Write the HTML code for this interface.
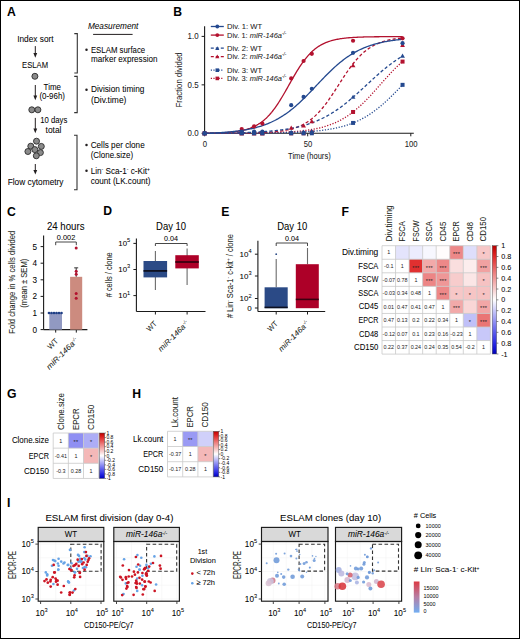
<!DOCTYPE html>
<html><head><meta charset="utf-8"><style>
html,body{margin:0;padding:0;background:#fff;overflow:hidden;width:520px;height:639px;}
svg{display:block;font-family:"Liberation Sans", sans-serif;}
</style></head><body>
<svg width="520" height="639" viewBox="0 0 520 639">
<rect x="0" y="0" width="520" height="639" fill="#fff"/>
<text x="7.00" y="15.90" font-size="12.2" text-anchor="start" font-weight="bold" fill="#000" >A</text>
<text x="17.20" y="42.40" font-size="8.6" text-anchor="start" textLength="36.40" lengthAdjust="spacingAndGlyphs" stroke="#231f20" stroke-width="0.05" >Index sort</text>
<line x1="35.3" y1="46.1" x2="35.3" y2="54.2" stroke="#231f20" stroke-width="1"/>
<path d="M33.4,53.1 L37.199999999999996,53.1 L35.3,57.7 Z" fill="#231f20"/>
<text x="22.10" y="67.70" font-size="8.6" text-anchor="start" textLength="26.00" lengthAdjust="spacingAndGlyphs" stroke="#231f20" stroke-width="0.05" >ESLAM</text>
<circle cx="34.9" cy="76.3" r="3.0" fill="#8a8a8a" stroke="#2a2a2a" stroke-width="0.9"/>
<line x1="35.3" y1="85" x2="35.3" y2="96.7" stroke="#231f20" stroke-width="1"/>
<path d="M33.4,95.60000000000001 L37.199999999999996,95.60000000000001 L35.3,100.2 Z" fill="#231f20"/>
<text x="43.60" y="89.70" font-size="8.6" text-anchor="start" textLength="17.40" lengthAdjust="spacingAndGlyphs" stroke="#231f20" stroke-width="0.05" >Time</text>
<text x="39.40" y="99.30" font-size="8.6" text-anchor="start" textLength="25.60" lengthAdjust="spacingAndGlyphs" stroke="#231f20" stroke-width="0.05" >(0-96h)</text>
<circle cx="31.8" cy="109.8" r="3.0" fill="#8a8a8a" stroke="#2a2a2a" stroke-width="0.9"/>
<circle cx="37.9" cy="109.8" r="3.0" fill="#8a8a8a" stroke="#2a2a2a" stroke-width="0.9"/>
<line x1="35.3" y1="117.9" x2="35.3" y2="129.7" stroke="#231f20" stroke-width="1"/>
<path d="M33.4,128.6 L37.199999999999996,128.6 L35.3,133.2 Z" fill="#231f20"/>
<text x="40.20" y="123.20" font-size="8.6" text-anchor="start" textLength="27.10" lengthAdjust="spacingAndGlyphs" stroke="#231f20" stroke-width="0.05" >10 days</text>
<text x="45.60" y="132.80" font-size="8.6" text-anchor="start" textLength="15.90" lengthAdjust="spacingAndGlyphs" stroke="#231f20" stroke-width="0.05" >total</text>
<circle cx="36.5" cy="141.2" r="3.0" fill="#8a8a8a" stroke="#2a2a2a" stroke-width="0.9"/>
<circle cx="30.8" cy="146.2" r="3.0" fill="#8a8a8a" stroke="#2a2a2a" stroke-width="0.9"/>
<circle cx="41.3" cy="146.4" r="3.0" fill="#8a8a8a" stroke="#2a2a2a" stroke-width="0.9"/>
<circle cx="34.8" cy="149.6" r="3.0" fill="#8a8a8a" stroke="#2a2a2a" stroke-width="0.9"/>
<circle cx="27.9" cy="151.5" r="3.0" fill="#8a8a8a" stroke="#2a2a2a" stroke-width="0.9"/>
<circle cx="40.4" cy="152.6" r="3.0" fill="#8a8a8a" stroke="#2a2a2a" stroke-width="0.9"/>
<circle cx="36.3" cy="155.8" r="3.0" fill="#8a8a8a" stroke="#2a2a2a" stroke-width="0.9"/>
<line x1="35.3" y1="164" x2="35.3" y2="171.1" stroke="#231f20" stroke-width="1"/>
<path d="M33.4,170.0 L37.199999999999996,170.0 L35.3,174.6 Z" fill="#231f20"/>
<text x="7.70" y="184.50" font-size="8.6" text-anchor="start" textLength="55.80" lengthAdjust="spacingAndGlyphs" stroke="#231f20" stroke-width="0.05" >Flow cytometry</text>
<text x="87.90" y="28.70" font-size="8.6" text-anchor="start" font-style="italic" textLength="50.50" lengthAdjust="spacingAndGlyphs" >Measurement</text>
<line x1="93.1" y1="34.4" x2="132.6" y2="34.4" stroke="#231f20" stroke-width="1"/>
<path d="M74.3,33.6 L77.3,33.6 L77.3,73.0 L74.3,73.0" fill="none" stroke="#333" stroke-width="1.1"/>
<path d="M74.2,76.4 L77.2,76.4 L77.2,112.6 L74.2,112.6" fill="none" stroke="#333" stroke-width="1.1"/>
<path d="M74.0,135.3 L77.0,135.3 L77.0,189.7 L74.0,189.7" fill="none" stroke="#333" stroke-width="1.1"/>
<circle cx="86.5" cy="49.8" r="1.25" fill="#231f20"/>
<text x="90.90" y="52.50" font-size="8.6" text-anchor="start" textLength="54.30" lengthAdjust="spacingAndGlyphs" stroke="#231f20" stroke-width="0.05" >ESLAM surface</text>
<text x="90.90" y="62.30" font-size="8.6" text-anchor="start" textLength="66.60" lengthAdjust="spacingAndGlyphs" stroke="#231f20" stroke-width="0.05" >marker expression</text>
<circle cx="86.5" cy="89.7" r="1.25" fill="#231f20"/>
<text x="90.90" y="92.40" font-size="8.6" text-anchor="start" textLength="53.50" lengthAdjust="spacingAndGlyphs" stroke="#231f20" stroke-width="0.05" >Division timing</text>
<text x="90.90" y="102.50" font-size="8.6" text-anchor="start" textLength="35.50" lengthAdjust="spacingAndGlyphs" stroke="#231f20" stroke-width="0.05" >(Div.time)</text>
<circle cx="86.5" cy="145.0" r="1.25" fill="#231f20"/>
<text x="90.70" y="147.90" font-size="8.6" text-anchor="start" textLength="54.00" lengthAdjust="spacingAndGlyphs" stroke="#231f20" stroke-width="0.05" >Cells per clone</text>
<text x="90.70" y="157.70" font-size="8.6" text-anchor="start" textLength="42.40" lengthAdjust="spacingAndGlyphs" stroke="#231f20" stroke-width="0.05" >(Clone.size)</text>
<circle cx="86.5" cy="170.8" r="1.25" fill="#231f20"/>
<text x="90.70" y="173.50" font-size="8.6" text-anchor="start" textLength="59.30" lengthAdjust="spacingAndGlyphs" stroke="#231f20" stroke-width="0.05" >Lin<tspan font-size="5.2" dy="-2.9">-</tspan><tspan dy="2.9"> Sca-1</tspan><tspan font-size="5.2" dy="-2.9">-</tspan><tspan dy="2.9"> c-Kit</tspan><tspan font-size="5.2" dy="-2.9">+</tspan></text>
<text x="90.70" y="183.50" font-size="8.6" text-anchor="start" textLength="59.80" lengthAdjust="spacingAndGlyphs" stroke="#231f20" stroke-width="0.05" >count (LK.count)</text>
<text x="173.20" y="15.90" font-size="12.2" text-anchor="start" font-weight="bold" fill="#000" >B</text>
<line x1="204.6" y1="26.2" x2="204.6" y2="133.3" stroke="#1a1a1a" stroke-width="1.1"/>
<line x1="204.6" y1="133.3" x2="413.8" y2="133.3" stroke="#1a1a1a" stroke-width="1.1"/>
<line x1="201.6" y1="133.30" x2="204.6" y2="133.30" stroke="#1a1a1a" stroke-width="1"/>
<line x1="201.6" y1="84.85" x2="204.6" y2="84.85" stroke="#1a1a1a" stroke-width="1"/>
<line x1="201.6" y1="36.40" x2="204.6" y2="36.40" stroke="#1a1a1a" stroke-width="1"/>
<line x1="204.60" y1="133.3" x2="204.60" y2="136.3" stroke="#1a1a1a" stroke-width="1"/>
<line x1="307.70" y1="133.3" x2="307.70" y2="136.3" stroke="#1a1a1a" stroke-width="1"/>
<line x1="410.80" y1="133.3" x2="410.80" y2="136.3" stroke="#1a1a1a" stroke-width="1"/>
<text x="198.60" y="136.10" font-size="8.2" text-anchor="end" fill="#222" textLength="11.00" lengthAdjust="spacingAndGlyphs" stroke="#222" stroke-width="0.05" >0.0</text>
<text x="198.60" y="87.65" font-size="8.2" text-anchor="end" fill="#222" textLength="11.00" lengthAdjust="spacingAndGlyphs" stroke="#222" stroke-width="0.05" >0.5</text>
<text x="198.60" y="39.20" font-size="8.2" text-anchor="end" fill="#222" textLength="11.00" lengthAdjust="spacingAndGlyphs" stroke="#222" stroke-width="0.05" >1.0</text>
<text x="205.00" y="146.50" font-size="8.3" text-anchor="middle" fill="#222" textLength="4.30" lengthAdjust="spacingAndGlyphs" stroke="#222" stroke-width="0.05" >0</text>
<text x="308.10" y="146.50" font-size="8.3" text-anchor="middle" fill="#222" textLength="8.50" lengthAdjust="spacingAndGlyphs" stroke="#222" stroke-width="0.05" >50</text>
<text x="411.20" y="146.50" font-size="8.3" text-anchor="middle" fill="#222" textLength="12.80" lengthAdjust="spacingAndGlyphs" stroke="#222" stroke-width="0.05" >100</text>
<text x="309.40" y="158.80" font-size="9.4" text-anchor="middle" fill="#222" textLength="42.60" lengthAdjust="spacingAndGlyphs" stroke="#222" stroke-width="0.05" >Time (hours)</text>
<text x="0" y="0" font-size="9.6" fill="#222" text-anchor="middle" textLength="55" lengthAdjust="spacingAndGlyphs" transform="translate(181.8,79.9) rotate(-90)">Fraction divided</text>
<polyline points="204.60,133.30 205.63,133.30 206.66,133.30 207.69,133.30 208.72,133.29 209.75,133.29 210.79,133.29 211.82,133.29 212.85,133.29 213.88,133.29 214.91,133.28 215.94,133.28 216.97,133.28 218.00,133.28 219.03,133.27 220.06,133.27 221.10,133.27 222.13,133.27 223.16,133.26 224.19,133.26 225.22,133.26 226.25,133.25 227.28,133.25 228.31,133.25 229.34,133.24 230.38,133.24 231.41,133.23 232.44,133.23 233.47,133.22 234.50,133.22 235.53,133.21 236.56,133.21 237.59,133.20 238.62,133.20 239.65,133.19 240.69,133.18 241.72,133.18 242.75,133.17 243.78,133.16 244.81,133.15 245.84,133.14 246.87,133.13 247.90,133.13 248.93,133.12 249.96,133.11 251.00,133.09 252.03,133.08 253.06,133.07 254.09,133.06 255.12,133.05 256.15,133.03 257.18,133.02 258.21,133.00 259.24,132.99 260.27,132.97 261.31,132.95 262.34,132.93 263.37,132.91 264.40,132.89 265.43,132.87 266.46,132.85 267.49,132.83 268.52,132.80 269.55,132.78 270.58,132.75 271.62,132.72 272.65,132.69 273.68,132.66 274.71,132.63 275.74,132.59 276.77,132.56 277.80,132.52 278.83,132.48 279.86,132.44 280.89,132.39 281.92,132.35 282.96,132.30 283.99,132.25 285.02,132.20 286.05,132.14 287.08,132.09 288.11,132.03 289.14,131.96 290.17,131.90 291.20,131.83 292.24,131.75 293.27,131.68 294.30,131.60 295.33,131.51 296.36,131.43 297.39,131.33 298.42,131.24 299.45,131.14 300.48,131.03 301.51,130.92 302.54,130.80 303.58,130.68 304.61,130.56 305.64,130.42 306.67,130.29 307.70,130.14 308.73,129.99 309.76,129.83 310.79,129.66 311.82,129.49 312.86,129.31 313.89,129.12 314.92,128.92 315.95,128.71 316.98,128.50 318.01,128.27 319.04,128.04 320.07,127.79 321.10,127.53 322.13,127.27 323.16,126.99 324.20,126.69 325.23,126.39 326.26,126.07 327.29,125.74 328.32,125.40 329.35,125.04 330.38,124.67 331.41,124.28 332.44,123.88 333.48,123.46 334.51,123.03 335.54,122.57 336.57,122.10 337.60,121.62 338.63,121.11 339.66,120.59 340.69,120.05 341.72,119.49 342.75,118.90 343.78,118.30 344.82,117.68 345.85,117.04 346.88,116.38 347.91,115.69 348.94,114.99 349.97,114.26 351.00,113.51 352.03,112.74 353.06,111.95 354.09,111.13 355.13,110.30 356.16,109.44 357.19,108.57 358.22,107.67 359.25,106.75 360.28,105.81 361.31,104.85 362.34,103.87 363.37,102.88 364.40,101.86 365.44,100.83 366.47,99.78 367.50,98.72 368.53,97.64 369.56,96.55 370.59,95.44 371.62,94.32 372.65,93.20 373.68,92.06 374.71,90.91 375.75,89.76 376.78,88.60 377.81,87.44 378.84,86.28 379.87,85.11 380.90,83.94 381.93,82.78 382.96,81.61 383.99,80.45 385.02,79.30 386.06,78.15 387.09,77.01 388.12,75.88 389.15,74.76 390.18,73.65 391.21,72.55 392.24,71.47 393.27,70.40 394.30,69.34 395.33,68.30 396.37,67.28 397.40,66.28 398.43,65.29 399.46,64.32 400.49,63.38 401.52,62.45 402.55,61.54" fill="none" stroke="#b3122f" stroke-width="1.3" stroke-dasharray="1.2,1.6"/>
<polyline points="204.60,133.30 205.63,133.30 206.66,133.30 207.69,133.30 208.72,133.29 209.75,133.29 210.79,133.29 211.82,133.29 212.85,133.29 213.88,133.29 214.91,133.28 215.94,133.28 216.97,133.28 218.00,133.28 219.03,133.27 220.06,133.27 221.10,133.27 222.13,133.26 223.16,133.26 224.19,133.26 225.22,133.25 226.25,133.25 227.28,133.24 228.31,133.24 229.34,133.23 230.38,133.23 231.41,133.22 232.44,133.22 233.47,133.21 234.50,133.20 235.53,133.19 236.56,133.19 237.59,133.18 238.62,133.17 239.65,133.16 240.69,133.14 241.72,133.13 242.75,133.12 243.78,133.11 244.81,133.09 245.84,133.08 246.87,133.06 247.90,133.04 248.93,133.02 249.96,133.00 251.00,132.98 252.03,132.96 253.06,132.94 254.09,132.91 255.12,132.88 256.15,132.85 257.18,132.82 258.21,132.79 259.24,132.75 260.27,132.71 261.31,132.67 262.34,132.62 263.37,132.58 264.40,132.53 265.43,132.47 266.46,132.41 267.49,132.35 268.52,132.29 269.55,132.22 270.58,132.14 271.62,132.06 272.65,131.98 273.68,131.89 274.71,131.79 275.74,131.68 276.77,131.57 277.80,131.46 278.83,131.33 279.86,131.20 280.89,131.05 281.92,130.90 282.96,130.74 283.99,130.57 285.02,130.38 286.05,130.19 287.08,129.98 288.11,129.76 289.14,129.52 290.17,129.27 291.20,129.00 292.24,128.72 293.27,128.42 294.30,128.10 295.33,127.76 296.36,127.40 297.39,127.02 298.42,126.62 299.45,126.19 300.48,125.74 301.51,125.26 302.54,124.75 303.58,124.22 304.61,123.65 305.64,123.06 306.67,122.43 307.70,121.77 308.73,121.07 309.76,120.34 310.79,119.57 311.82,118.77 312.86,117.92 313.89,117.04 314.92,116.12 315.95,115.15 316.98,114.15 318.01,113.10 319.04,112.02 320.07,110.89 321.10,109.72 322.13,108.51 323.16,107.26 324.20,105.97 325.23,104.64 326.26,103.28 327.29,101.88 328.32,100.44 329.35,98.98 330.38,97.49 331.41,95.97 332.44,94.43 333.48,92.87 334.51,91.29 335.54,89.70 336.57,88.09 337.60,86.48 338.63,84.87 339.66,83.25 340.69,81.64 341.72,80.04 342.75,78.44 343.78,76.87 344.82,75.30 345.85,73.76 346.88,72.24 347.91,70.75 348.94,69.29 349.97,67.86 351.00,66.46 352.03,65.09 353.06,63.77 354.09,62.48 355.13,61.23 356.16,60.02 357.19,58.85 358.22,57.72 359.25,56.63 360.28,55.59 361.31,54.58 362.34,53.62 363.37,52.69 364.40,51.81 365.44,50.97 366.47,50.16 367.50,49.39 368.53,48.66 369.56,47.97 370.59,47.31 371.62,46.68 372.65,46.08 373.68,45.52 374.71,44.98 375.75,44.48 376.78,44.00 377.81,43.54 378.84,43.12 379.87,42.71 380.90,42.33 381.93,41.97 382.96,41.63 383.99,41.31 385.02,41.01 386.06,40.73 387.09,40.46 388.12,40.21 389.15,39.98 390.18,39.75 391.21,39.55 392.24,39.35 393.27,39.17 394.30,38.99 395.33,38.83 396.37,38.68 397.40,38.54 398.43,38.40 399.46,38.28 400.49,38.16 401.52,38.05 402.55,37.95" fill="none" stroke="#b3122f" stroke-width="1.3" stroke-dasharray="3.2,2.2"/>
<polyline points="204.60,133.30 205.63,133.28 206.66,133.27 207.69,133.25 208.72,133.23 209.75,133.21 210.79,133.19 211.82,133.16 212.85,133.14 213.88,133.11 214.91,133.08 215.94,133.05 216.97,133.01 218.00,132.97 219.03,132.93 220.06,132.89 221.10,132.84 222.13,132.79 223.16,132.73 224.19,132.67 225.22,132.61 226.25,132.54 227.28,132.46 228.31,132.38 229.34,132.30 230.38,132.20 231.41,132.10 232.44,132.00 233.47,131.88 234.50,131.75 235.53,131.62 236.56,131.47 237.59,131.32 238.62,131.15 239.65,130.97 240.69,130.78 241.72,130.57 242.75,130.35 243.78,130.11 244.81,129.85 245.84,129.58 246.87,129.28 247.90,128.97 248.93,128.63 249.96,128.27 251.00,127.88 252.03,127.46 253.06,127.02 254.09,126.55 255.12,126.04 256.15,125.50 257.18,124.93 258.21,124.32 259.24,123.67 260.27,122.98 261.31,122.25 262.34,121.48 263.37,120.65 264.40,119.79 265.43,118.87 266.46,117.91 267.49,116.89 268.52,115.82 269.55,114.70 270.58,113.52 271.62,112.30 272.65,111.01 273.68,109.68 274.71,108.29 275.74,106.86 276.77,105.37 277.80,103.83 278.83,102.25 279.86,100.62 280.89,98.96 281.92,97.26 282.96,95.52 283.99,93.76 285.02,91.97 286.05,90.17 287.08,88.35 288.11,86.51 289.14,84.68 290.17,82.85 291.20,81.02 292.24,79.20 293.27,77.40 294.30,75.63 295.33,73.87 296.36,72.15 297.39,70.46 298.42,68.81 299.45,67.21 300.48,65.64 301.51,64.13 302.54,62.66 303.58,61.24 304.61,59.87 305.64,58.56 306.67,57.30 307.70,56.09 308.73,54.94 309.76,53.84 310.79,52.79 311.82,51.80 312.86,50.85 313.89,49.95 314.92,49.10 315.95,48.30 316.98,47.55 318.01,46.83 319.04,46.16 320.07,45.52 321.10,44.93 322.13,44.37 323.16,43.85 324.20,43.35 325.23,42.89 326.26,42.46 327.29,42.06 328.32,41.68 329.35,41.33 330.38,41.00 331.41,40.69 332.44,40.40 333.48,40.14 334.51,39.89 335.54,39.65 336.57,39.44 337.60,39.24 338.63,39.05 339.66,38.87 340.69,38.71 341.72,38.56 342.75,38.42 343.78,38.29 344.82,38.17 345.85,38.05 346.88,37.95 347.91,37.85 348.94,37.76 349.97,37.68 351.00,37.60 352.03,37.53 353.06,37.46 354.09,37.40 355.13,37.34 356.16,37.29 357.19,37.24 358.22,37.19 359.25,37.15 360.28,37.11 361.31,37.07 362.34,37.04 363.37,37.00 364.40,36.97 365.44,36.95 366.47,36.92 367.50,36.90 368.53,36.88 369.56,36.86 370.59,36.84 371.62,36.82 372.65,36.80 373.68,36.79 374.71,36.77 375.75,36.76 376.78,36.75 377.81,36.74 378.84,36.73 379.87,36.72 380.90,36.71 381.93,36.70 382.96,36.69 383.99,36.69 385.02,36.68 386.06,36.67 387.09,36.67 388.12,36.66 389.15,36.66 390.18,36.65 391.21,36.65 392.24,36.65 393.27,36.64 394.30,36.64 395.33,36.64 396.37,36.63 397.40,36.63 398.43,36.63 399.46,36.63 400.49,36.62 401.52,36.62 402.55,36.62" fill="none" stroke="#b3122f" stroke-width="1.3"/>
<polyline points="204.60,133.30 205.63,133.30 206.66,133.30 207.69,133.30 208.72,133.30 209.75,133.30 210.79,133.29 211.82,133.29 212.85,133.29 213.88,133.29 214.91,133.29 215.94,133.29 216.97,133.29 218.00,133.28 219.03,133.28 220.06,133.28 221.10,133.28 222.13,133.28 223.16,133.28 224.19,133.27 225.22,133.27 226.25,133.27 227.28,133.27 228.31,133.27 229.34,133.26 230.38,133.26 231.41,133.26 232.44,133.25 233.47,133.25 234.50,133.25 235.53,133.25 236.56,133.24 237.59,133.24 238.62,133.23 239.65,133.23 240.69,133.23 241.72,133.22 242.75,133.22 243.78,133.21 244.81,133.21 245.84,133.20 246.87,133.20 247.90,133.19 248.93,133.19 249.96,133.18 251.00,133.17 252.03,133.17 253.06,133.16 254.09,133.15 255.12,133.15 256.15,133.14 257.18,133.13 258.21,133.12 259.24,133.11 260.27,133.10 261.31,133.09 262.34,133.08 263.37,133.07 264.40,133.06 265.43,133.05 266.46,133.04 267.49,133.03 268.52,133.01 269.55,133.00 270.58,132.98 271.62,132.97 272.65,132.95 273.68,132.94 274.71,132.92 275.74,132.90 276.77,132.88 277.80,132.86 278.83,132.84 279.86,132.82 280.89,132.80 281.92,132.78 282.96,132.75 283.99,132.73 285.02,132.70 286.05,132.67 287.08,132.64 288.11,132.61 289.14,132.58 290.17,132.55 291.20,132.51 292.24,132.48 293.27,132.44 294.30,132.40 295.33,132.36 296.36,132.31 297.39,132.27 298.42,132.22 299.45,132.17 300.48,132.12 301.51,132.07 302.54,132.01 303.58,131.95 304.61,131.89 305.64,131.83 306.67,131.76 307.70,131.69 308.73,131.62 309.76,131.55 310.79,131.47 311.82,131.39 312.86,131.30 313.89,131.21 314.92,131.12 315.95,131.02 316.98,130.92 318.01,130.81 319.04,130.70 320.07,130.59 321.10,130.47 322.13,130.34 323.16,130.21 324.20,130.08 325.23,129.93 326.26,129.79 327.29,129.63 328.32,129.47 329.35,129.31 330.38,129.13 331.41,128.95 332.44,128.76 333.48,128.57 334.51,128.36 335.54,128.15 336.57,127.93 337.60,127.70 338.63,127.46 339.66,127.21 340.69,126.95 341.72,126.69 342.75,126.41 343.78,126.12 344.82,125.82 345.85,125.51 346.88,125.18 347.91,124.85 348.94,124.50 349.97,124.14 351.00,123.76 352.03,123.37 353.06,122.97 354.09,122.56 355.13,122.12 356.16,121.68 357.19,121.22 358.22,120.74 359.25,120.25 360.28,119.74 361.31,119.22 362.34,118.67 363.37,118.12 364.40,117.54 365.44,116.95 366.47,116.34 367.50,115.71 368.53,115.06 369.56,114.40 370.59,113.71 371.62,113.01 372.65,112.29 373.68,111.55 374.71,110.80 375.75,110.02 376.78,109.23 377.81,108.42 378.84,107.60 379.87,106.75 380.90,105.89 381.93,105.01 382.96,104.12 383.99,103.20 385.02,102.28 386.06,101.34 387.09,100.38 388.12,99.41 389.15,98.43 390.18,97.44 391.21,96.43 392.24,95.42 393.27,94.39 394.30,93.36 395.33,92.31 396.37,91.26 397.40,90.21 398.43,89.15 399.46,88.08 400.49,87.01 401.52,85.94 402.55,84.87" fill="none" stroke="#24498f" stroke-width="1.3" stroke-dasharray="1.2,1.6"/>
<polyline points="204.60,133.30 205.63,133.29 206.66,133.28 207.69,133.28 208.72,133.27 209.75,133.26 210.79,133.25 211.82,133.24 212.85,133.23 213.88,133.22 214.91,133.21 215.94,133.19 216.97,133.18 218.00,133.17 219.03,133.16 220.06,133.14 221.10,133.13 222.13,133.11 223.16,133.10 224.19,133.08 225.22,133.07 226.25,133.05 227.28,133.03 228.31,133.01 229.34,132.99 230.38,132.97 231.41,132.95 232.44,132.93 233.47,132.91 234.50,132.88 235.53,132.86 236.56,132.83 237.59,132.81 238.62,132.78 239.65,132.75 240.69,132.72 241.72,132.69 242.75,132.66 243.78,132.62 244.81,132.59 245.84,132.55 246.87,132.51 247.90,132.47 248.93,132.43 249.96,132.39 251.00,132.35 252.03,132.30 253.06,132.25 254.09,132.21 255.12,132.15 256.15,132.10 257.18,132.05 258.21,131.99 259.24,131.93 260.27,131.87 261.31,131.80 262.34,131.73 263.37,131.66 264.40,131.59 265.43,131.52 266.46,131.44 267.49,131.36 268.52,131.27 269.55,131.19 270.58,131.10 271.62,131.00 272.65,130.90 273.68,130.80 274.71,130.70 275.74,130.59 276.77,130.47 277.80,130.36 278.83,130.23 279.86,130.11 280.89,129.98 281.92,129.84 282.96,129.70 283.99,129.55 285.02,129.40 286.05,129.24 287.08,129.08 288.11,128.91 289.14,128.73 290.17,128.55 291.20,128.36 292.24,128.17 293.27,127.96 294.30,127.75 295.33,127.54 296.36,127.31 297.39,127.08 298.42,126.84 299.45,126.59 300.48,126.33 301.51,126.06 302.54,125.79 303.58,125.50 304.61,125.21 305.64,124.91 306.67,124.59 307.70,124.27 308.73,123.93 309.76,123.59 310.79,123.23 311.82,122.86 312.86,122.48 313.89,122.09 314.92,121.69 315.95,121.27 316.98,120.84 318.01,120.40 319.04,119.95 320.07,119.48 321.10,119.00 322.13,118.51 323.16,118.00 324.20,117.48 325.23,116.94 326.26,116.39 327.29,115.83 328.32,115.25 329.35,114.66 330.38,114.05 331.41,113.43 332.44,112.80 333.48,112.15 334.51,111.48 335.54,110.80 336.57,110.11 337.60,109.40 338.63,108.68 339.66,107.94 340.69,107.19 341.72,106.43 342.75,105.65 343.78,104.86 344.82,104.06 345.85,103.24 346.88,102.42 347.91,101.58 348.94,100.73 349.97,99.86 351.00,98.99 352.03,98.11 353.06,97.22 354.09,96.32 355.13,95.41 356.16,94.49 357.19,93.57 358.22,92.64 359.25,91.70 360.28,90.76 361.31,89.81 362.34,88.87 363.37,87.91 364.40,86.96 365.44,86.00 366.47,85.05 367.50,84.09 368.53,83.13 369.56,82.18 370.59,81.23 371.62,80.28 372.65,79.33 373.68,78.39 374.71,77.46 375.75,76.52 376.78,75.60 377.81,74.68 378.84,73.78 379.87,72.87 380.90,71.98 381.93,71.10 382.96,70.23 383.99,69.37 385.02,68.51 386.06,67.68 387.09,66.85 388.12,66.03 389.15,65.23 390.18,64.44 391.21,63.66 392.24,62.90 393.27,62.15 394.30,61.41 395.33,60.69 396.37,59.98 397.40,59.29 398.43,58.61 399.46,57.94 400.49,57.29 401.52,56.66 402.55,56.04" fill="none" stroke="#24498f" stroke-width="1.3" stroke-dasharray="3.2,2.2"/>
<polyline points="204.60,133.30 205.63,133.27 206.66,133.23 207.69,133.20 208.72,133.16 209.75,133.12 210.79,133.08 211.82,133.03 212.85,132.99 213.88,132.94 214.91,132.89 215.94,132.84 216.97,132.78 218.00,132.73 219.03,132.67 220.06,132.61 221.10,132.54 222.13,132.48 223.16,132.40 224.19,132.33 225.22,132.25 226.25,132.17 227.28,132.09 228.31,132.00 229.34,131.91 230.38,131.82 231.41,131.72 232.44,131.61 233.47,131.50 234.50,131.39 235.53,131.27 236.56,131.15 237.59,131.02 238.62,130.89 239.65,130.75 240.69,130.60 241.72,130.45 242.75,130.29 243.78,130.13 244.81,129.95 245.84,129.78 246.87,129.59 247.90,129.39 248.93,129.19 249.96,128.98 251.00,128.76 252.03,128.53 253.06,128.29 254.09,128.04 255.12,127.79 256.15,127.52 257.18,127.24 258.21,126.95 259.24,126.65 260.27,126.33 261.31,126.01 262.34,125.67 263.37,125.32 264.40,124.96 265.43,124.58 266.46,124.19 267.49,123.78 268.52,123.36 269.55,122.93 270.58,122.48 271.62,122.01 272.65,121.53 273.68,121.03 274.71,120.52 275.74,119.98 276.77,119.43 277.80,118.87 278.83,118.28 279.86,117.68 280.89,117.06 281.92,116.42 282.96,115.76 283.99,115.08 285.02,114.38 286.05,113.67 287.08,112.94 288.11,112.18 289.14,111.41 290.17,110.62 291.20,109.81 292.24,108.98 293.27,108.14 294.30,107.28 295.33,106.39 296.36,105.50 297.39,104.58 298.42,103.65 299.45,102.70 300.48,101.74 301.51,100.76 302.54,99.77 303.58,98.77 304.61,97.75 305.64,96.72 306.67,95.69 307.70,94.64 308.73,93.58 309.76,92.51 310.79,91.44 311.82,90.36 312.86,89.28 313.89,88.19 314.92,87.11 315.95,86.01 316.98,84.92 318.01,83.83 319.04,82.74 320.07,81.66 321.10,80.58 322.13,79.50 323.16,78.43 324.20,77.37 325.23,76.31 326.26,75.26 327.29,74.23 328.32,73.20 329.35,72.19 330.38,71.19 331.41,70.20 332.44,69.22 333.48,68.26 334.51,67.32 335.54,66.39 336.57,65.48 337.60,64.58 338.63,63.71 339.66,62.85 340.69,62.01 341.72,61.18 342.75,60.38 343.78,59.59 344.82,58.82 345.85,58.07 346.88,57.34 347.91,56.63 348.94,55.94 349.97,55.27 351.00,54.61 352.03,53.97 353.06,53.36 354.09,52.76 355.13,52.18 356.16,51.61 357.19,51.07 358.22,50.54 359.25,50.03 360.28,49.53 361.31,49.05 362.34,48.59 363.37,48.14 364.40,47.71 365.44,47.29 366.47,46.89 367.50,46.50 368.53,46.13 369.56,45.77 370.59,45.42 371.62,45.08 372.65,44.76 373.68,44.45 374.71,44.15 375.75,43.86 376.78,43.59 377.81,43.32 378.84,43.06 379.87,42.82 380.90,42.58 381.93,42.35 382.96,42.13 383.99,41.93 385.02,41.72 386.06,41.53 387.09,41.35 388.12,41.17 389.15,41.00 390.18,40.83 391.21,40.68 392.24,40.52 393.27,40.38 394.30,40.24 395.33,40.11 396.37,39.98 397.40,39.86 398.43,39.74 399.46,39.63 400.49,39.52 401.52,39.42 402.55,39.32" fill="none" stroke="#24498f" stroke-width="1.3"/>
<rect x="202.60" y="131.30" width="4" height="4" fill="#b3122f"/>
<rect x="239.72" y="131.30" width="4" height="4" fill="#b3122f"/>
<rect x="252.09" y="131.30" width="4" height="4" fill="#b3122f"/>
<rect x="260.34" y="131.30" width="4" height="4" fill="#b3122f"/>
<rect x="289.20" y="131.30" width="4" height="4" fill="#b3122f"/>
<rect x="301.58" y="131.30" width="4" height="4" fill="#b3122f"/>
<rect x="309.82" y="130.33" width="4" height="4" fill="#b3122f"/>
<rect x="351.06" y="109.98" width="4" height="4" fill="#b3122f"/>
<rect x="400.55" y="59.59" width="4" height="4" fill="#b3122f"/>
<path d="M202.20,135.20 L207.00,135.20 L204.60,131.00 Z" fill="#b3122f"/>
<path d="M239.32,135.20 L244.12,135.20 L241.72,131.00 Z" fill="#b3122f"/>
<path d="M251.69,135.20 L256.49,135.20 L254.09,131.00 Z" fill="#b3122f"/>
<path d="M259.94,135.20 L264.74,135.20 L262.34,131.00 Z" fill="#b3122f"/>
<path d="M288.80,129.68 L293.60,129.68 L291.20,125.48 Z" fill="#b3122f"/>
<path d="M301.18,127.45 L305.98,127.45 L303.58,123.25 Z" fill="#b3122f"/>
<path d="M309.42,123.18 L314.22,123.18 L311.82,118.98 Z" fill="#b3122f"/>
<path d="M350.66,67.37 L355.46,67.37 L353.06,63.17 Z" fill="#b3122f"/>
<path d="M400.15,47.02 L404.95,47.02 L402.55,42.82 Z" fill="#b3122f"/>
<circle cx="204.60" cy="133.30" r="2.1" fill="#b3122f"/>
<circle cx="241.72" cy="129.04" r="2.1" fill="#b3122f"/>
<circle cx="254.09" cy="126.32" r="2.1" fill="#b3122f"/>
<circle cx="262.34" cy="123.61" r="2.1" fill="#b3122f"/>
<circle cx="291.20" cy="78.45" r="2.1" fill="#b3122f"/>
<circle cx="303.58" cy="61.01" r="2.1" fill="#b3122f"/>
<circle cx="311.82" cy="53.84" r="2.1" fill="#b3122f"/>
<circle cx="353.06" cy="40.76" r="2.1" fill="#b3122f"/>
<circle cx="402.55" cy="38.34" r="2.1" fill="#b3122f"/>
<rect x="202.60" y="131.30" width="4" height="4" fill="#24498f"/>
<rect x="239.72" y="131.30" width="4" height="4" fill="#24498f"/>
<rect x="252.09" y="131.30" width="4" height="4" fill="#24498f"/>
<rect x="260.34" y="131.30" width="4" height="4" fill="#24498f"/>
<rect x="289.20" y="131.30" width="4" height="4" fill="#24498f"/>
<rect x="301.58" y="131.30" width="4" height="4" fill="#24498f"/>
<rect x="309.82" y="131.30" width="4" height="4" fill="#24498f"/>
<rect x="351.06" y="120.93" width="4" height="4" fill="#24498f"/>
<rect x="400.55" y="82.85" width="4" height="4" fill="#24498f"/>
<path d="M202.20,135.20 L207.00,135.20 L204.60,131.00 Z" fill="#24498f"/>
<path d="M239.32,134.23 L244.12,134.23 L241.72,130.03 Z" fill="#24498f"/>
<path d="M251.69,134.23 L256.49,134.23 L254.09,130.03 Z" fill="#24498f"/>
<path d="M259.94,134.23 L264.74,134.23 L262.34,130.03 Z" fill="#24498f"/>
<path d="M288.80,134.04 L293.60,134.04 L291.20,129.84 Z" fill="#24498f"/>
<path d="M301.18,133.75 L305.98,133.75 L303.58,129.55 Z" fill="#24498f"/>
<path d="M309.42,133.26 L314.22,133.26 L311.82,129.06 Z" fill="#24498f"/>
<path d="M350.66,98.86 L355.46,98.86 L353.06,94.66 Z" fill="#24498f"/>
<path d="M400.15,57.68 L404.95,57.68 L402.55,53.48 Z" fill="#24498f"/>
<circle cx="204.60" cy="133.30" r="2.1" fill="#24498f"/>
<circle cx="241.72" cy="131.56" r="2.1" fill="#24498f"/>
<circle cx="254.09" cy="131.56" r="2.1" fill="#24498f"/>
<circle cx="262.34" cy="131.56" r="2.1" fill="#24498f"/>
<circle cx="291.20" cy="105.20" r="2.1" fill="#24498f"/>
<circle cx="303.58" cy="96.96" r="2.1" fill="#24498f"/>
<circle cx="311.82" cy="88.73" r="2.1" fill="#24498f"/>
<circle cx="353.06" cy="52.87" r="2.1" fill="#24498f"/>
<circle cx="402.55" cy="43.18" r="2.1" fill="#24498f"/>
<line x1="210.8" y1="26.5" x2="223.8" y2="26.5" stroke="#24498f" stroke-width="1.3"/>
<circle cx="217.3" cy="26.5" r="1.9" fill="#24498f"/>
<text x="227.10" y="29.10" font-size="7.5" text-anchor="start" fill="#222" textLength="35.00" lengthAdjust="spacingAndGlyphs" stroke="#222" stroke-width="0.05" >Div. 1: WT</text>
<line x1="210.8" y1="35.1" x2="223.8" y2="35.1" stroke="#b3122f" stroke-width="1.3"/>
<circle cx="217.3" cy="35.1" r="1.9" fill="#b3122f"/>
<text x="227.10" y="37.70" font-size="7.5" text-anchor="start" fill="#222" textLength="59.20" lengthAdjust="spacingAndGlyphs" stroke="#222" stroke-width="0.05" >Div. 1: <tspan font-style="italic" stroke-width="0.05">miR-146a</tspan><tspan font-size="4.6" dy="-2.8" font-style="italic">-/-</tspan></text>
<line x1="210.8" y1="48.2" x2="223.8" y2="48.2" stroke="#24498f" stroke-width="1.3" stroke-dasharray="3,2"/>
<path d="M215.20000000000002,49.900000000000006 L219.4,49.900000000000006 L217.3,46.2 Z" fill="#24498f"/>
<text x="227.10" y="50.80" font-size="7.5" text-anchor="start" fill="#222" textLength="35.00" lengthAdjust="spacingAndGlyphs" stroke="#222" stroke-width="0.05" >Div. 2: WT</text>
<line x1="210.8" y1="56.6" x2="223.8" y2="56.6" stroke="#b3122f" stroke-width="1.3" stroke-dasharray="3,2"/>
<path d="M215.20000000000002,58.300000000000004 L219.4,58.300000000000004 L217.3,54.6 Z" fill="#b3122f"/>
<text x="227.10" y="59.20" font-size="7.5" text-anchor="start" fill="#222" textLength="59.20" lengthAdjust="spacingAndGlyphs" stroke="#222" stroke-width="0.05" >Div. 2: <tspan font-style="italic" stroke-width="0.05">miR-146a</tspan><tspan font-size="4.6" dy="-2.8" font-style="italic">-/-</tspan></text>
<line x1="210.8" y1="70.2" x2="223.8" y2="70.2" stroke="#24498f" stroke-width="1.3" stroke-dasharray="1.2,1.4"/>
<rect x="215.5" y="68.4" width="3.6" height="3.6" fill="#24498f"/>
<text x="227.10" y="72.80" font-size="7.5" text-anchor="start" fill="#222" textLength="35.00" lengthAdjust="spacingAndGlyphs" stroke="#222" stroke-width="0.05" >Div. 3: WT</text>
<line x1="210.8" y1="78.4" x2="223.8" y2="78.4" stroke="#b3122f" stroke-width="1.3" stroke-dasharray="1.2,1.4"/>
<rect x="215.5" y="76.60000000000001" width="3.6" height="3.6" fill="#b3122f"/>
<text x="227.10" y="81.00" font-size="7.5" text-anchor="start" fill="#222" textLength="59.20" lengthAdjust="spacingAndGlyphs" stroke="#222" stroke-width="0.05" >Div. 3: <tspan font-style="italic" stroke-width="0.05">miR-146a</tspan><tspan font-size="4.6" dy="-2.8" font-style="italic">-/-</tspan></text>
<text x="7.00" y="215.50" font-size="12.2" text-anchor="start" font-weight="bold" fill="#000" >C</text>
<text x="65.70" y="229.70" font-size="10.4" text-anchor="middle" textLength="37.60" lengthAdjust="spacingAndGlyphs" stroke="#231f20" stroke-width="0.05" >24 hours</text>
<line x1="43.6" y1="235.6" x2="43.6" y2="329.6" stroke="#1a1a1a" stroke-width="1.1"/>
<line x1="43.6" y1="329.6" x2="87.4" y2="329.6" stroke="#1a1a1a" stroke-width="1.1"/>
<line x1="40.6" y1="329.60" x2="43.6" y2="329.60" stroke="#1a1a1a" stroke-width="1"/>
<text x="34.80" y="332.50" font-size="8.2" text-anchor="middle" stroke="#231f20" stroke-width="0.05" >0</text>
<line x1="40.6" y1="313.00" x2="43.6" y2="313.00" stroke="#1a1a1a" stroke-width="1"/>
<text x="34.80" y="315.90" font-size="8.2" text-anchor="middle" stroke="#231f20" stroke-width="0.05" >1</text>
<line x1="40.6" y1="296.40" x2="43.6" y2="296.40" stroke="#1a1a1a" stroke-width="1"/>
<text x="34.80" y="299.30" font-size="8.2" text-anchor="middle" stroke="#231f20" stroke-width="0.05" >2</text>
<line x1="40.6" y1="279.80" x2="43.6" y2="279.80" stroke="#1a1a1a" stroke-width="1"/>
<text x="34.80" y="282.70" font-size="8.2" text-anchor="middle" stroke="#231f20" stroke-width="0.05" >3</text>
<line x1="40.6" y1="263.20" x2="43.6" y2="263.20" stroke="#1a1a1a" stroke-width="1"/>
<text x="34.80" y="266.10" font-size="8.2" text-anchor="middle" stroke="#231f20" stroke-width="0.05" >4</text>
<line x1="40.6" y1="246.60" x2="43.6" y2="246.60" stroke="#1a1a1a" stroke-width="1"/>
<text x="34.80" y="249.50" font-size="8.2" text-anchor="middle" stroke="#231f20" stroke-width="0.05" >5</text>
<line x1="55.7" y1="329.6" x2="55.7" y2="332.6" stroke="#1a1a1a" stroke-width="1"/>
<line x1="76.3" y1="329.6" x2="76.3" y2="332.6" stroke="#1a1a1a" stroke-width="1"/>
<rect x="49.3" y="313.00" width="12.7" height="16.60" fill="#9199c2"/>
<rect x="70.1" y="276.81" width="12.1" height="52.79" fill="#cc8b7f"/>
<line x1="76.2" y1="276.81" x2="76.2" y2="267.85" stroke="#333" stroke-width="1"/>
<line x1="74.2" y1="267.85" x2="78.2" y2="267.85" stroke="#333" stroke-width="1"/>
<circle cx="49.00" cy="313.00" r="1.35" fill="#1f3f86"/>
<circle cx="51.50" cy="313.00" r="1.35" fill="#1f3f86"/>
<circle cx="54.00" cy="313.00" r="1.35" fill="#1f3f86"/>
<circle cx="56.50" cy="313.00" r="1.35" fill="#1f3f86"/>
<circle cx="59.00" cy="313.00" r="1.35" fill="#1f3f86"/>
<circle cx="61.50" cy="313.00" r="1.35" fill="#1f3f86"/>
<circle cx="76.2" cy="248.09" r="1.5" fill="#b3122f"/>
<circle cx="76.2" cy="271.33" r="1.5" fill="#b3122f"/>
<circle cx="76.2" cy="274.16" r="1.5" fill="#b3122f"/>
<circle cx="76.2" cy="293.58" r="1.5" fill="#b3122f"/>
<circle cx="76.2" cy="298.23" r="1.5" fill="#b3122f"/>
<path d="M55.7,245.2 L55.7,242 L76.3,242 L76.3,245.2" fill="none" stroke="#333" stroke-width="0.9"/>
<text x="66.10" y="239.60" font-size="6.6" text-anchor="middle" textLength="18.50" lengthAdjust="spacingAndGlyphs" stroke="#231f20" stroke-width="0.05" >0.002</text>
<text x="0" y="0" font-size="8.4" text-anchor="middle" fill="#231f20" textLength="103" lengthAdjust="spacingAndGlyphs" stroke="#231f20" stroke-width="0.05" transform="translate(14.60,282.30) rotate(-90)">Fold change in % cells divided</text>
<text x="0" y="0" font-size="8.4" text-anchor="middle" fill="#231f20" textLength="49" lengthAdjust="spacingAndGlyphs" stroke="#231f20" stroke-width="0.05" transform="translate(26.50,283.20) rotate(-90)">(mean ± SEM)</text>
<text x="0" y="0" font-size="7.8" text-anchor="end" fill="#231f20" textLength="11.5" lengthAdjust="spacingAndGlyphs" stroke="#231f20" stroke-width="0.05" transform="translate(58.60,341.50) rotate(-45)">WT</text>
<text x="0" y="0" font-size="7.8" text-anchor="end" fill="#231f20" textLength="41" lengthAdjust="spacingAndGlyphs" stroke="#231f20" stroke-width="0.05" transform="translate(78.60,341.00) rotate(-45)"><tspan font-style="italic" stroke-width="0.05">miR-146a</tspan><tspan font-style="italic" stroke-width="0" font-size="4.8" dy="-2.8">-/-</tspan></text>
<text x="103.20" y="215.30" font-size="12.2" text-anchor="start" font-weight="bold" fill="#000" >D</text>
<text x="171.10" y="229.60" font-size="10.4" text-anchor="middle" textLength="30.00" lengthAdjust="spacingAndGlyphs" stroke="#231f20" stroke-width="0.05" >Day 10</text>
<line x1="136.4" y1="238.6" x2="136.4" y2="311.5" stroke="#1a1a1a" stroke-width="1.1"/>
<line x1="136.4" y1="311.5" x2="205.5" y2="311.5" stroke="#1a1a1a" stroke-width="1.1"/>
<line x1="133.4" y1="243.40" x2="136.4" y2="243.40" stroke="#1a1a1a" stroke-width="1"/>
<text x="118.30" y="246.10" font-size="7.8" text-anchor="start" textLength="11.90" lengthAdjust="spacingAndGlyphs" stroke="#231f20" stroke-width="0.05" >10<tspan font-size="5.6" dy="-3.8">5</tspan></text>
<line x1="133.4" y1="269.50" x2="136.4" y2="269.50" stroke="#1a1a1a" stroke-width="1"/>
<text x="118.30" y="272.20" font-size="7.8" text-anchor="start" textLength="11.90" lengthAdjust="spacingAndGlyphs" stroke="#231f20" stroke-width="0.05" >10<tspan font-size="5.6" dy="-3.8">3</tspan></text>
<line x1="133.4" y1="295.60" x2="136.4" y2="295.60" stroke="#1a1a1a" stroke-width="1"/>
<text x="118.30" y="298.30" font-size="7.8" text-anchor="start" textLength="11.90" lengthAdjust="spacingAndGlyphs" stroke="#231f20" stroke-width="0.05" >10<tspan font-size="5.6" dy="-3.8">1</tspan></text>
<line x1="155.4" y1="311.5" x2="155.4" y2="314.5" stroke="#1a1a1a" stroke-width="1"/>
<line x1="187.1" y1="311.5" x2="187.1" y2="314.5" stroke="#1a1a1a" stroke-width="1"/>
<line x1="155.4" y1="251" x2="155.4" y2="290" stroke="#6b6b6b" stroke-width="1.1"/>
<line x1="187.1" y1="248.6" x2="187.1" y2="285" stroke="#6b6b6b" stroke-width="1.1"/>
<rect x="143.5" y="261" width="23.6" height="16.4" fill="#2b4a86"/>
<line x1="143.5" y1="270.9" x2="167.1" y2="270.9" stroke="#0d1020" stroke-width="1.8"/>
<rect x="175.3" y="255.2" width="23.5" height="13.2" fill="#ad0028"/>
<line x1="175.3" y1="262" x2="198.8" y2="262" stroke="#3a0010" stroke-width="1.8"/>
<path d="M155.4,246 L155.4,243.5 L187.1,243.5 L187.1,246" fill="none" stroke="#333" stroke-width="0.9"/>
<text x="171.10" y="241.20" font-size="6.8" text-anchor="middle" textLength="14.00" lengthAdjust="spacingAndGlyphs" stroke="#231f20" stroke-width="0.05" >0.04</text>
<text x="0" y="0" font-size="8.4" text-anchor="middle" fill="#231f20" textLength="45" lengthAdjust="spacingAndGlyphs" stroke="#231f20" stroke-width="0.05" transform="translate(111.60,274.80) rotate(-90)"># cells / clone</text>
<text x="0" y="0" font-size="7.6" text-anchor="end" fill="#231f20" textLength="11" lengthAdjust="spacingAndGlyphs" stroke="#231f20" stroke-width="0.05" transform="translate(157.40,324.30) rotate(-45)">WT</text>
<text x="0" y="0" font-size="7.6" text-anchor="end" fill="#231f20" textLength="40" lengthAdjust="spacingAndGlyphs" stroke="#231f20" stroke-width="0.05" transform="translate(189.40,323.80) rotate(-45)"><tspan font-style="italic" stroke-width="0.05">miR-146a</tspan><tspan font-style="italic" stroke-width="0" font-size="4.8" dy="-2.8">-/-</tspan></text>
<text x="221.20" y="215.60" font-size="12.2" text-anchor="start" font-weight="bold" fill="#000" >E</text>
<text x="292.20" y="229.60" font-size="10.4" text-anchor="middle" textLength="30.00" lengthAdjust="spacingAndGlyphs" stroke="#231f20" stroke-width="0.05" >Day 10</text>
<line x1="257.9" y1="240.8" x2="257.9" y2="311.5" stroke="#1a1a1a" stroke-width="1.1"/>
<line x1="257.9" y1="311.5" x2="325.2" y2="311.5" stroke="#1a1a1a" stroke-width="1.1"/>
<line x1="254.89999999999998" y1="254.2" x2="257.9" y2="254.2" stroke="#1a1a1a" stroke-width="1"/>
<text x="251.60" y="257.10" font-size="8.0" text-anchor="end" stroke="#231f20" stroke-width="0.05" >10<tspan font-size="5.6" dy="-3.8">4</tspan></text>
<line x1="254.89999999999998" y1="276.0" x2="257.9" y2="276.0" stroke="#1a1a1a" stroke-width="1"/>
<text x="251.60" y="278.90" font-size="8.0" text-anchor="end" stroke="#231f20" stroke-width="0.05" >10<tspan font-size="5.6" dy="-3.8">3</tspan></text>
<line x1="254.89999999999998" y1="298.5" x2="257.9" y2="298.5" stroke="#1a1a1a" stroke-width="1"/>
<text x="251.60" y="301.40" font-size="8.0" text-anchor="end" stroke="#231f20" stroke-width="0.05" >10<tspan font-size="5.6" dy="-3.8">2</tspan></text>
<line x1="254.89999999999998" y1="308.0" x2="257.9" y2="308.0" stroke="#1a1a1a" stroke-width="1"/>
<text x="251.60" y="310.90" font-size="8.0" text-anchor="end" stroke="#231f20" stroke-width="0.05" >0</text>
<line x1="276.2" y1="311.5" x2="276.2" y2="314.5" stroke="#1a1a1a" stroke-width="1"/>
<line x1="307.5" y1="311.5" x2="307.5" y2="314.5" stroke="#1a1a1a" stroke-width="1"/>
<line x1="276.2" y1="259" x2="276.2" y2="287.3" stroke="#6b6b6b" stroke-width="1.1"/>
<circle cx="276.2" cy="254.2" r="0.9" fill="#2b4a86"/>
<line x1="307.5" y1="248" x2="307.5" y2="264.2" stroke="#6b6b6b" stroke-width="1.1"/>
<rect x="264.6" y="287.3" width="23.1" height="20.9" fill="#2b4a86"/>
<line x1="264.6" y1="307.4" x2="287.7" y2="307.4" stroke="#0d1020" stroke-width="1.6"/>
<rect x="295.8" y="264.2" width="23.0" height="44.0" fill="#ad0028"/>
<line x1="295.8" y1="299.4" x2="318.8" y2="299.4" stroke="#3a0010" stroke-width="1.6"/>
<path d="M276.2,246 L276.2,243 L307.5,243 L307.5,246" fill="none" stroke="#333" stroke-width="0.9"/>
<text x="292.00" y="240.80" font-size="6.8" text-anchor="middle" textLength="14.00" lengthAdjust="spacingAndGlyphs" stroke="#231f20" stroke-width="0.05" >0.04</text>
<text x="0" y="0" font-size="8.4" text-anchor="middle" fill="#231f20" textLength="84" lengthAdjust="spacingAndGlyphs" stroke="#231f20" stroke-width="0.05" transform="translate(233.30,276.10) rotate(-90)"># Lin<tspan font-size="5.2" dy="-2.9">-</tspan><tspan dy="2.9"> Sca-1</tspan><tspan font-size="5.2" dy="-2.9">-</tspan><tspan dy="2.9"> c-kit</tspan><tspan font-size="5.2" dy="-2.9">+</tspan><tspan dy="2.9"> / clone</tspan></text>
<text x="0" y="0" font-size="7.6" text-anchor="end" fill="#231f20" textLength="11" lengthAdjust="spacingAndGlyphs" stroke="#231f20" stroke-width="0.05" transform="translate(278.30,324.30) rotate(-45)">WT</text>
<text x="0" y="0" font-size="7.6" text-anchor="end" fill="#231f20" textLength="40" lengthAdjust="spacingAndGlyphs" stroke="#231f20" stroke-width="0.05" transform="translate(309.80,323.80) rotate(-45)"><tspan font-style="italic" stroke-width="0.05">miR-146a</tspan><tspan font-style="italic" stroke-width="0" font-size="4.8" dy="-2.8">-/-</tspan></text>
<text x="341.50" y="215.50" font-size="12.2" text-anchor="start" font-weight="bold" fill="#000" >F</text>
<rect x="395.55" y="245.70" width="13.55" height="13.55" fill="#e4e4fc"/>
<rect x="409.10" y="245.70" width="13.55" height="13.55" fill="#ececfd"/>
<rect x="422.65" y="245.70" width="13.55" height="13.55" fill="#f7f7fe"/>
<rect x="436.20" y="245.70" width="13.55" height="13.55" fill="#fffcfc"/>
<rect x="449.75" y="245.70" width="13.55" height="13.55" fill="#ed8888"/>
<rect x="463.30" y="245.70" width="13.55" height="13.55" fill="#dedefb"/>
<rect x="476.85" y="245.70" width="13.55" height="13.55" fill="#f7c7c7"/>
<rect x="409.10" y="259.25" width="13.55" height="13.55" fill="#e13030"/>
<rect x="422.65" y="259.25" width="13.55" height="13.55" fill="#f2a9a9"/>
<rect x="436.20" y="259.25" width="13.55" height="13.55" fill="#ed8888"/>
<rect x="449.75" y="259.25" width="13.55" height="13.55" fill="#fadede"/>
<rect x="463.30" y="259.25" width="13.55" height="13.55" fill="#fceded"/>
<rect x="476.85" y="259.25" width="13.55" height="13.55" fill="#f1a1a1"/>
<rect x="422.65" y="272.80" width="13.55" height="13.55" fill="#ed8585"/>
<rect x="436.20" y="272.80" width="13.55" height="13.55" fill="#ef9797"/>
<rect x="449.75" y="272.80" width="13.55" height="13.55" fill="#f7cccc"/>
<rect x="463.30" y="272.80" width="13.55" height="13.55" fill="#fbe6e6"/>
<rect x="476.85" y="272.80" width="13.55" height="13.55" fill="#f6c2c2"/>
<rect x="436.20" y="286.35" width="13.55" height="13.55" fill="#ed8888"/>
<rect x="449.75" y="286.35" width="13.55" height="13.55" fill="#f7c7c7"/>
<rect x="463.30" y="286.35" width="13.55" height="13.55" fill="#f6c5c5"/>
<rect x="476.85" y="286.35" width="13.55" height="13.55" fill="#f6c2c2"/>
<rect x="449.75" y="299.90" width="13.55" height="13.55" fill="#f2a9a9"/>
<rect x="463.30" y="299.90" width="13.55" height="13.55" fill="#f9d6d6"/>
<rect x="476.85" y="299.90" width="13.55" height="13.55" fill="#f2a6a6"/>
<rect x="463.30" y="313.45" width="13.55" height="13.55" fill="#c0c0f8"/>
<rect x="476.85" y="313.45" width="13.55" height="13.55" fill="#ea7575"/>
<rect x="476.85" y="327.00" width="13.55" height="13.55" fill="#c8c8f9"/>
<path d="M382.00,245.70H490.40M382.00,245.70V354.10M382.00,259.25H490.40M395.55,245.70V354.10M382.00,272.80H490.40M409.10,245.70V354.10M382.00,286.35H490.40M422.65,245.70V354.10M382.00,299.90H490.40M436.20,245.70V354.10M382.00,313.45H490.40M449.75,245.70V354.10M382.00,327.00H490.40M463.30,245.70V354.10M382.00,340.55H490.40M476.85,245.70V354.10M382.00,354.10H490.40M490.40,245.70V354.10" stroke="#c9c9c9" stroke-width="0.8" fill="none"/>
<text x="388.77" y="254.42" font-size="5.4" text-anchor="middle" fill="#222" >1</text>
<text x="456.52" y="255.95" font-size="5.6" text-anchor="middle" fill="#222" letter-spacing="0.2">***</text>
<text x="483.62" y="255.95" font-size="5.6" text-anchor="middle" fill="#222" letter-spacing="0.2">*</text>
<text x="388.77" y="267.97" font-size="5.4" text-anchor="middle" fill="#222" >-0.1</text>
<text x="402.32" y="267.97" font-size="5.4" text-anchor="middle" fill="#222" >1</text>
<text x="415.88" y="269.50" font-size="5.6" text-anchor="middle" fill="#222" letter-spacing="0.2">***</text>
<text x="429.43" y="269.50" font-size="5.6" text-anchor="middle" fill="#222" letter-spacing="0.2">***</text>
<text x="442.98" y="269.50" font-size="5.6" text-anchor="middle" fill="#222" letter-spacing="0.2">***</text>
<text x="483.62" y="269.50" font-size="5.6" text-anchor="middle" fill="#222" letter-spacing="0.2">***</text>
<text x="388.77" y="281.52" font-size="5.4" text-anchor="middle" fill="#222" >-0.07</text>
<text x="402.32" y="281.52" font-size="5.4" text-anchor="middle" fill="#222" >0.78</text>
<text x="415.88" y="281.52" font-size="5.4" text-anchor="middle" fill="#222" >1</text>
<text x="429.43" y="283.05" font-size="5.6" text-anchor="middle" fill="#222" letter-spacing="0.2">***</text>
<text x="442.98" y="283.05" font-size="5.6" text-anchor="middle" fill="#222" letter-spacing="0.2">***</text>
<text x="483.62" y="283.05" font-size="5.6" text-anchor="middle" fill="#222" letter-spacing="0.2">*</text>
<text x="388.77" y="295.07" font-size="5.4" text-anchor="middle" fill="#222" >-0.03</text>
<text x="402.32" y="295.07" font-size="5.4" text-anchor="middle" fill="#222" >0.34</text>
<text x="415.88" y="295.07" font-size="5.4" text-anchor="middle" fill="#222" >0.48</text>
<text x="429.43" y="295.07" font-size="5.4" text-anchor="middle" fill="#222" >1</text>
<text x="442.98" y="296.60" font-size="5.6" text-anchor="middle" fill="#222" letter-spacing="0.2">***</text>
<text x="456.52" y="296.60" font-size="5.6" text-anchor="middle" fill="#222" letter-spacing="0.2">*</text>
<text x="470.07" y="296.60" font-size="5.6" text-anchor="middle" fill="#222" letter-spacing="0.2">*</text>
<text x="483.62" y="296.60" font-size="5.6" text-anchor="middle" fill="#222" letter-spacing="0.2">*</text>
<text x="388.77" y="308.62" font-size="5.4" text-anchor="middle" fill="#222" >0.01</text>
<text x="402.32" y="308.62" font-size="5.4" text-anchor="middle" fill="#222" >0.47</text>
<text x="415.88" y="308.62" font-size="5.4" text-anchor="middle" fill="#222" >0.41</text>
<text x="429.43" y="308.62" font-size="5.4" text-anchor="middle" fill="#222" >0.47</text>
<text x="442.98" y="308.62" font-size="5.4" text-anchor="middle" fill="#222" >1</text>
<text x="456.52" y="310.15" font-size="5.6" text-anchor="middle" fill="#222" letter-spacing="0.2">***</text>
<text x="483.62" y="310.15" font-size="5.6" text-anchor="middle" fill="#222" letter-spacing="0.2">***</text>
<text x="388.77" y="322.17" font-size="5.4" text-anchor="middle" fill="#222" >0.47</text>
<text x="402.32" y="322.17" font-size="5.4" text-anchor="middle" fill="#222" >0.13</text>
<text x="415.88" y="322.17" font-size="5.4" text-anchor="middle" fill="#222" >0.2</text>
<text x="429.43" y="322.17" font-size="5.4" text-anchor="middle" fill="#222" >0.22</text>
<text x="442.98" y="322.17" font-size="5.4" text-anchor="middle" fill="#222" >0.34</text>
<text x="456.52" y="322.17" font-size="5.4" text-anchor="middle" fill="#222" >1</text>
<text x="470.07" y="323.70" font-size="5.6" text-anchor="middle" fill="#222" letter-spacing="0.2">*</text>
<text x="483.62" y="323.70" font-size="5.6" text-anchor="middle" fill="#222" letter-spacing="0.2">***</text>
<text x="388.77" y="335.72" font-size="5.4" text-anchor="middle" fill="#222" >-0.12</text>
<text x="402.32" y="335.72" font-size="5.4" text-anchor="middle" fill="#222" >0.07</text>
<text x="415.88" y="335.72" font-size="5.4" text-anchor="middle" fill="#222" >0.1</text>
<text x="429.43" y="335.72" font-size="5.4" text-anchor="middle" fill="#222" >0.23</text>
<text x="442.98" y="335.72" font-size="5.4" text-anchor="middle" fill="#222" >0.16</text>
<text x="456.52" y="335.72" font-size="5.4" text-anchor="middle" fill="#222" >-0.23</text>
<text x="470.07" y="335.72" font-size="5.4" text-anchor="middle" fill="#222" >1</text>
<text x="388.77" y="349.27" font-size="5.4" text-anchor="middle" fill="#222" >0.22</text>
<text x="402.32" y="349.27" font-size="5.4" text-anchor="middle" fill="#222" >0.37</text>
<text x="415.88" y="349.27" font-size="5.4" text-anchor="middle" fill="#222" >0.24</text>
<text x="429.43" y="349.27" font-size="5.4" text-anchor="middle" fill="#222" >0.24</text>
<text x="442.98" y="349.27" font-size="5.4" text-anchor="middle" fill="#222" >0.35</text>
<text x="456.52" y="349.27" font-size="5.4" text-anchor="middle" fill="#222" >0.54</text>
<text x="470.07" y="349.27" font-size="5.4" text-anchor="middle" fill="#222" >-0.2</text>
<text x="483.62" y="349.27" font-size="5.4" text-anchor="middle" fill="#222" >1</text>
<text x="378.30" y="255.26" font-size="8.2" text-anchor="end" textLength="36.40" lengthAdjust="spacingAndGlyphs" stroke="#231f20" stroke-width="0.05" >Div.timing</text>
<text x="0" y="0" font-size="8.2" text-anchor="start" fill="#231f20" textLength="36.2" lengthAdjust="spacingAndGlyphs" stroke="#231f20" stroke-width="0.05" transform="translate(391.56,241.40) rotate(-90)">Div.timing</text>
<text x="378.30" y="268.81" font-size="8.2" text-anchor="end" textLength="20.00" lengthAdjust="spacingAndGlyphs" stroke="#231f20" stroke-width="0.05" >FSCA</text>
<text x="0" y="0" font-size="8.2" text-anchor="start" fill="#231f20" textLength="20.2" lengthAdjust="spacingAndGlyphs" stroke="#231f20" stroke-width="0.05" transform="translate(405.11,241.40) rotate(-90)">FSCA</text>
<text x="378.30" y="282.36" font-size="8.2" text-anchor="end" textLength="20.80" lengthAdjust="spacingAndGlyphs" stroke="#231f20" stroke-width="0.05" >FSCW</text>
<text x="0" y="0" font-size="8.2" text-anchor="start" fill="#231f20" textLength="21" lengthAdjust="spacingAndGlyphs" stroke="#231f20" stroke-width="0.05" transform="translate(418.66,241.40) rotate(-90)">FSCW</text>
<text x="378.30" y="295.91" font-size="8.2" text-anchor="end" textLength="20.00" lengthAdjust="spacingAndGlyphs" stroke="#231f20" stroke-width="0.05" >SSCA</text>
<text x="0" y="0" font-size="8.2" text-anchor="start" fill="#231f20" textLength="20.2" lengthAdjust="spacingAndGlyphs" stroke="#231f20" stroke-width="0.05" transform="translate(432.21,241.40) rotate(-90)">SSCA</text>
<text x="378.30" y="309.46" font-size="8.2" text-anchor="end" textLength="19.60" lengthAdjust="spacingAndGlyphs" stroke="#231f20" stroke-width="0.05" >CD45</text>
<text x="0" y="0" font-size="8.2" text-anchor="start" fill="#231f20" textLength="19.8" lengthAdjust="spacingAndGlyphs" stroke="#231f20" stroke-width="0.05" transform="translate(445.76,241.40) rotate(-90)">CD45</text>
<text x="378.30" y="323.01" font-size="8.2" text-anchor="end" textLength="19.80" lengthAdjust="spacingAndGlyphs" stroke="#231f20" stroke-width="0.05" >EPCR</text>
<text x="0" y="0" font-size="8.2" text-anchor="start" fill="#231f20" textLength="20" lengthAdjust="spacingAndGlyphs" stroke="#231f20" stroke-width="0.05" transform="translate(459.31,241.40) rotate(-90)">EPCR</text>
<text x="378.30" y="336.56" font-size="8.2" text-anchor="end" textLength="19.20" lengthAdjust="spacingAndGlyphs" stroke="#231f20" stroke-width="0.05" >CD48</text>
<text x="0" y="0" font-size="8.2" text-anchor="start" fill="#231f20" textLength="19.4" lengthAdjust="spacingAndGlyphs" stroke="#231f20" stroke-width="0.05" transform="translate(472.86,241.40) rotate(-90)">CD48</text>
<text x="378.30" y="350.11" font-size="8.2" text-anchor="end" textLength="24.20" lengthAdjust="spacingAndGlyphs" stroke="#231f20" stroke-width="0.05" >CD150</text>
<text x="0" y="0" font-size="8.2" text-anchor="start" fill="#231f20" textLength="24.4" lengthAdjust="spacingAndGlyphs" stroke="#231f20" stroke-width="0.05" transform="translate(486.41,241.40) rotate(-90)">CD150</text>
<defs><linearGradient id="cbF" x1="0" y1="0" x2="0" y2="1"><stop offset="0.000" stop-color="#b40000"/><stop offset="0.050" stop-color="#d01313"/><stop offset="0.100" stop-color="#e02a2a"/><stop offset="0.150" stop-color="#e44747"/><stop offset="0.200" stop-color="#e86363"/><stop offset="0.250" stop-color="#ec8080"/><stop offset="0.300" stop-color="#f09999"/><stop offset="0.350" stop-color="#f4b3b3"/><stop offset="0.400" stop-color="#f7cccc"/><stop offset="0.450" stop-color="#fbe6e6"/><stop offset="0.500" stop-color="#ffffff"/><stop offset="0.550" stop-color="#e4e4fc"/><stop offset="0.600" stop-color="#c8c8f9"/><stop offset="0.650" stop-color="#adadf6"/><stop offset="0.700" stop-color="#9191f3"/><stop offset="0.750" stop-color="#7676f0"/><stop offset="0.800" stop-color="#5c5cec"/><stop offset="0.850" stop-color="#4343e8"/><stop offset="0.900" stop-color="#2929e4"/><stop offset="0.950" stop-color="#1313d3"/><stop offset="1.000" stop-color="#0000b4"/></linearGradient></defs>
<rect x="492.2" y="245.7" width="4.4" height="108.3" fill="url(#cbF)" stroke="#555" stroke-width="0.5"/>
<line x1="496.59999999999997" y1="245.70" x2="498.4" y2="245.70" stroke="#333" stroke-width="0.6"/>
<text x="501.20" y="248.29" font-size="7.2" text-anchor="start" stroke="#231f20" stroke-width="0.05" >1</text>
<line x1="496.59999999999997" y1="256.53" x2="498.4" y2="256.53" stroke="#333" stroke-width="0.6"/>
<text x="501.20" y="259.12" font-size="7.2" text-anchor="start" stroke="#231f20" stroke-width="0.05" >0.8</text>
<line x1="496.59999999999997" y1="267.36" x2="498.4" y2="267.36" stroke="#333" stroke-width="0.6"/>
<text x="501.20" y="269.95" font-size="7.2" text-anchor="start" stroke="#231f20" stroke-width="0.05" >0.6</text>
<line x1="496.59999999999997" y1="278.19" x2="498.4" y2="278.19" stroke="#333" stroke-width="0.6"/>
<text x="501.20" y="280.78" font-size="7.2" text-anchor="start" stroke="#231f20" stroke-width="0.05" >0.4</text>
<line x1="496.59999999999997" y1="289.02" x2="498.4" y2="289.02" stroke="#333" stroke-width="0.6"/>
<text x="501.20" y="291.61" font-size="7.2" text-anchor="start" stroke="#231f20" stroke-width="0.05" >0.2</text>
<line x1="496.59999999999997" y1="299.85" x2="498.4" y2="299.85" stroke="#333" stroke-width="0.6"/>
<text x="501.20" y="302.44" font-size="7.2" text-anchor="start" stroke="#231f20" stroke-width="0.05" >0</text>
<line x1="496.59999999999997" y1="310.68" x2="498.4" y2="310.68" stroke="#333" stroke-width="0.6"/>
<text x="501.20" y="313.27" font-size="7.2" text-anchor="start" stroke="#231f20" stroke-width="0.05" >0.2</text>
<line x1="496.59999999999997" y1="321.51" x2="498.4" y2="321.51" stroke="#333" stroke-width="0.6"/>
<text x="501.20" y="324.10" font-size="7.2" text-anchor="start" stroke="#231f20" stroke-width="0.05" >0.4</text>
<line x1="496.59999999999997" y1="332.34" x2="498.4" y2="332.34" stroke="#333" stroke-width="0.6"/>
<text x="501.20" y="334.93" font-size="7.2" text-anchor="start" stroke="#231f20" stroke-width="0.05" >0.6</text>
<line x1="496.59999999999997" y1="343.17" x2="498.4" y2="343.17" stroke="#333" stroke-width="0.6"/>
<text x="501.20" y="345.76" font-size="7.2" text-anchor="start" stroke="#231f20" stroke-width="0.05" >0.8</text>
<line x1="496.59999999999997" y1="354.00" x2="498.4" y2="354.00" stroke="#333" stroke-width="0.6"/>
<text x="501.20" y="356.59" font-size="7.2" text-anchor="start" stroke="#231f20" stroke-width="0.05" >-1</text>
<text x="7.00" y="397.90" font-size="12.2" text-anchor="start" font-weight="bold" fill="#000" >G</text>
<rect x="68.35" y="433.00" width="15.15" height="15.15" fill="#8f8ff3"/>
<rect x="83.50" y="433.00" width="15.15" height="15.15" fill="#adadf6"/>
<rect x="83.50" y="448.15" width="15.15" height="15.15" fill="#f4b8b8"/>
<path d="M53.20,433.00H98.65M53.20,433.00V478.45M53.20,448.15H98.65M68.35,433.00V478.45M53.20,463.30H98.65M83.50,433.00V478.45M53.20,478.45H98.65M98.65,433.00V478.45" stroke="#c9c9c9" stroke-width="0.8" fill="none"/>
<text x="60.78" y="442.52" font-size="5.4" text-anchor="middle" fill="#222" >1</text>
<text x="75.93" y="444.05" font-size="5.6" text-anchor="middle" fill="#222" letter-spacing="0.2">**</text>
<text x="91.08" y="444.05" font-size="5.6" text-anchor="middle" fill="#222" letter-spacing="0.2">*</text>
<text x="60.78" y="457.67" font-size="5.4" text-anchor="middle" fill="#222" >-0.41</text>
<text x="75.93" y="457.67" font-size="5.4" text-anchor="middle" fill="#222" >1</text>
<text x="91.08" y="459.20" font-size="5.6" text-anchor="middle" fill="#222" letter-spacing="0.2">*</text>
<text x="60.78" y="472.82" font-size="5.4" text-anchor="middle" fill="#222" >-0.3</text>
<text x="75.93" y="472.82" font-size="5.4" text-anchor="middle" fill="#222" >0.28</text>
<text x="91.08" y="472.82" font-size="5.4" text-anchor="middle" fill="#222" >1</text>
<text x="48.90" y="443.36" font-size="8.2" text-anchor="end" textLength="37.00" lengthAdjust="spacingAndGlyphs" stroke="#231f20" stroke-width="0.05" >Clone.size</text>
<text x="0" y="0" font-size="8.2" text-anchor="start" fill="#231f20" textLength="37" lengthAdjust="spacingAndGlyphs" stroke="#231f20" stroke-width="0.05" transform="translate(63.56,430.00) rotate(-90)">Clone.size</text>
<text x="48.90" y="458.51" font-size="8.2" text-anchor="end" textLength="20.10" lengthAdjust="spacingAndGlyphs" stroke="#231f20" stroke-width="0.05" >EPCR</text>
<text x="0" y="0" font-size="8.2" text-anchor="start" fill="#231f20" textLength="21.5" lengthAdjust="spacingAndGlyphs" stroke="#231f20" stroke-width="0.05" transform="translate(78.71,430.00) rotate(-90)">EPCR</text>
<text x="48.90" y="473.66" font-size="8.2" text-anchor="end" textLength="25.00" lengthAdjust="spacingAndGlyphs" stroke="#231f20" stroke-width="0.05" >CD150</text>
<text x="0" y="0" font-size="8.2" text-anchor="start" fill="#231f20" textLength="25.4" lengthAdjust="spacingAndGlyphs" stroke="#231f20" stroke-width="0.05" transform="translate(93.86,430.00) rotate(-90)">CD150</text>
<defs><linearGradient id="cbG" x1="0" y1="0" x2="0" y2="1"><stop offset="0.000" stop-color="#b40000"/><stop offset="0.050" stop-color="#d01313"/><stop offset="0.100" stop-color="#e02a2a"/><stop offset="0.150" stop-color="#e44747"/><stop offset="0.200" stop-color="#e86363"/><stop offset="0.250" stop-color="#ec8080"/><stop offset="0.300" stop-color="#f09999"/><stop offset="0.350" stop-color="#f4b3b3"/><stop offset="0.400" stop-color="#f7cccc"/><stop offset="0.450" stop-color="#fbe6e6"/><stop offset="0.500" stop-color="#ffffff"/><stop offset="0.550" stop-color="#e4e4fc"/><stop offset="0.600" stop-color="#c8c8f9"/><stop offset="0.650" stop-color="#adadf6"/><stop offset="0.700" stop-color="#9191f3"/><stop offset="0.750" stop-color="#7676f0"/><stop offset="0.800" stop-color="#5c5cec"/><stop offset="0.850" stop-color="#4343e8"/><stop offset="0.900" stop-color="#2929e4"/><stop offset="0.950" stop-color="#1313d3"/><stop offset="1.000" stop-color="#0000b4"/></linearGradient></defs>
<rect x="99.3" y="433.0" width="5.4" height="45.5" fill="url(#cbG)" stroke="#555" stroke-width="0.5"/>
<line x1="104.7" y1="433.00" x2="105.9" y2="433.00" stroke="#333" stroke-width="0.6"/>
<text x="106.40" y="434.80" font-size="5.0" text-anchor="start" >1</text>
<line x1="104.7" y1="437.55" x2="105.9" y2="437.55" stroke="#333" stroke-width="0.6"/>
<text x="106.40" y="439.35" font-size="5.0" text-anchor="start" >0.8</text>
<line x1="104.7" y1="442.10" x2="105.9" y2="442.10" stroke="#333" stroke-width="0.6"/>
<text x="106.40" y="443.90" font-size="5.0" text-anchor="start" >0.6</text>
<line x1="104.7" y1="446.65" x2="105.9" y2="446.65" stroke="#333" stroke-width="0.6"/>
<text x="106.40" y="448.45" font-size="5.0" text-anchor="start" >0.4</text>
<line x1="104.7" y1="451.20" x2="105.9" y2="451.20" stroke="#333" stroke-width="0.6"/>
<text x="106.40" y="453.00" font-size="5.0" text-anchor="start" >0.2</text>
<line x1="104.7" y1="455.75" x2="105.9" y2="455.75" stroke="#333" stroke-width="0.6"/>
<text x="106.40" y="457.55" font-size="5.0" text-anchor="start" >0</text>
<line x1="104.7" y1="460.30" x2="105.9" y2="460.30" stroke="#333" stroke-width="0.6"/>
<text x="106.40" y="462.10" font-size="5.0" text-anchor="start" >-0.2</text>
<line x1="104.7" y1="464.85" x2="105.9" y2="464.85" stroke="#333" stroke-width="0.6"/>
<text x="106.40" y="466.65" font-size="5.0" text-anchor="start" >-0.4</text>
<line x1="104.7" y1="469.40" x2="105.9" y2="469.40" stroke="#333" stroke-width="0.6"/>
<text x="106.40" y="471.20" font-size="5.0" text-anchor="start" >-0.6</text>
<line x1="104.7" y1="473.95" x2="105.9" y2="473.95" stroke="#333" stroke-width="0.6"/>
<text x="106.40" y="475.75" font-size="5.0" text-anchor="start" >-0.8</text>
<line x1="104.7" y1="478.50" x2="105.9" y2="478.50" stroke="#333" stroke-width="0.6"/>
<text x="106.40" y="480.30" font-size="5.0" text-anchor="start" >-1</text>
<text x="132.20" y="397.60" font-size="12.2" text-anchor="start" font-weight="bold" fill="#000" >H</text>
<rect x="182.70" y="431.30" width="15.20" height="15.20" fill="#9a9af4"/>
<rect x="197.90" y="431.30" width="15.20" height="15.20" fill="#d0d0fa"/>
<rect x="197.90" y="446.50" width="15.20" height="15.20" fill="#f4b8b8"/>
<path d="M167.50,431.30H213.10M167.50,431.30V476.90M167.50,446.50H213.10M182.70,431.30V476.90M167.50,461.70H213.10M197.90,431.30V476.90M167.50,476.90H213.10M213.10,431.30V476.90" stroke="#c9c9c9" stroke-width="0.8" fill="none"/>
<text x="175.10" y="440.84" font-size="5.4" text-anchor="middle" fill="#222" >1</text>
<text x="190.30" y="442.37" font-size="5.6" text-anchor="middle" fill="#222" letter-spacing="0.2">**</text>
<text x="175.10" y="456.04" font-size="5.4" text-anchor="middle" fill="#222" >-0.37</text>
<text x="190.30" y="456.04" font-size="5.4" text-anchor="middle" fill="#222" >1</text>
<text x="205.50" y="457.57" font-size="5.6" text-anchor="middle" fill="#222" letter-spacing="0.2">*</text>
<text x="175.10" y="471.24" font-size="5.4" text-anchor="middle" fill="#222" >-0.17</text>
<text x="190.30" y="471.24" font-size="5.4" text-anchor="middle" fill="#222" >0.28</text>
<text x="205.50" y="471.24" font-size="5.4" text-anchor="middle" fill="#222" >1</text>
<text x="163.30" y="441.69" font-size="8.2" text-anchor="end" textLength="30.20" lengthAdjust="spacingAndGlyphs" stroke="#231f20" stroke-width="0.05" >Lk.count</text>
<text x="0" y="0" font-size="8.2" text-anchor="start" fill="#231f20" textLength="30.5" lengthAdjust="spacingAndGlyphs" stroke="#231f20" stroke-width="0.05" transform="translate(177.89,427.60) rotate(-90)">Lk.count</text>
<text x="163.30" y="456.89" font-size="8.2" text-anchor="end" textLength="20.10" lengthAdjust="spacingAndGlyphs" stroke="#231f20" stroke-width="0.05" >EPCR</text>
<text x="0" y="0" font-size="8.2" text-anchor="start" fill="#231f20" textLength="21.5" lengthAdjust="spacingAndGlyphs" stroke="#231f20" stroke-width="0.05" transform="translate(193.09,427.60) rotate(-90)">EPCR</text>
<text x="163.30" y="472.09" font-size="8.2" text-anchor="end" textLength="25.00" lengthAdjust="spacingAndGlyphs" stroke="#231f20" stroke-width="0.05" >CD150</text>
<text x="0" y="0" font-size="8.2" text-anchor="start" fill="#231f20" textLength="25.4" lengthAdjust="spacingAndGlyphs" stroke="#231f20" stroke-width="0.05" transform="translate(208.29,427.60) rotate(-90)">CD150</text>
<defs><linearGradient id="cbH" x1="0" y1="0" x2="0" y2="1"><stop offset="0.000" stop-color="#b40000"/><stop offset="0.050" stop-color="#d01313"/><stop offset="0.100" stop-color="#e02a2a"/><stop offset="0.150" stop-color="#e44747"/><stop offset="0.200" stop-color="#e86363"/><stop offset="0.250" stop-color="#ec8080"/><stop offset="0.300" stop-color="#f09999"/><stop offset="0.350" stop-color="#f4b3b3"/><stop offset="0.400" stop-color="#f7cccc"/><stop offset="0.450" stop-color="#fbe6e6"/><stop offset="0.500" stop-color="#ffffff"/><stop offset="0.550" stop-color="#e4e4fc"/><stop offset="0.600" stop-color="#c8c8f9"/><stop offset="0.650" stop-color="#adadf6"/><stop offset="0.700" stop-color="#9191f3"/><stop offset="0.750" stop-color="#7676f0"/><stop offset="0.800" stop-color="#5c5cec"/><stop offset="0.850" stop-color="#4343e8"/><stop offset="0.900" stop-color="#2929e4"/><stop offset="0.950" stop-color="#1313d3"/><stop offset="1.000" stop-color="#0000b4"/></linearGradient></defs>
<rect x="213.4" y="431.3" width="5.4" height="45.6" fill="url(#cbH)" stroke="#555" stroke-width="0.5"/>
<line x1="218.8" y1="431.30" x2="220.0" y2="431.30" stroke="#333" stroke-width="0.6"/>
<text x="220.60" y="433.10" font-size="5.0" text-anchor="start" >1</text>
<line x1="218.8" y1="435.86" x2="220.0" y2="435.86" stroke="#333" stroke-width="0.6"/>
<text x="220.60" y="437.66" font-size="5.0" text-anchor="start" >0.8</text>
<line x1="218.8" y1="440.42" x2="220.0" y2="440.42" stroke="#333" stroke-width="0.6"/>
<text x="220.60" y="442.22" font-size="5.0" text-anchor="start" >0.6</text>
<line x1="218.8" y1="444.98" x2="220.0" y2="444.98" stroke="#333" stroke-width="0.6"/>
<text x="220.60" y="446.78" font-size="5.0" text-anchor="start" >0.4</text>
<line x1="218.8" y1="449.54" x2="220.0" y2="449.54" stroke="#333" stroke-width="0.6"/>
<text x="220.60" y="451.34" font-size="5.0" text-anchor="start" >0.2</text>
<line x1="218.8" y1="454.10" x2="220.0" y2="454.10" stroke="#333" stroke-width="0.6"/>
<text x="220.60" y="455.90" font-size="5.0" text-anchor="start" >0</text>
<line x1="218.8" y1="458.66" x2="220.0" y2="458.66" stroke="#333" stroke-width="0.6"/>
<text x="220.60" y="460.46" font-size="5.0" text-anchor="start" >-0.2</text>
<line x1="218.8" y1="463.22" x2="220.0" y2="463.22" stroke="#333" stroke-width="0.6"/>
<text x="220.60" y="465.02" font-size="5.0" text-anchor="start" >-0.4</text>
<line x1="218.8" y1="467.78" x2="220.0" y2="467.78" stroke="#333" stroke-width="0.6"/>
<text x="220.60" y="469.58" font-size="5.0" text-anchor="start" >-0.6</text>
<line x1="218.8" y1="472.34" x2="220.0" y2="472.34" stroke="#333" stroke-width="0.6"/>
<text x="220.60" y="474.14" font-size="5.0" text-anchor="start" >-0.8</text>
<line x1="218.8" y1="476.90" x2="220.0" y2="476.90" stroke="#333" stroke-width="0.6"/>
<text x="220.60" y="478.70" font-size="5.0" text-anchor="start" >-1</text>
<text x="7.10" y="506.70" font-size="12.2" text-anchor="start" font-weight="bold" fill="#000" >I</text>
<text x="109.40" y="520.90" font-size="9.0" text-anchor="middle" textLength="128.00" lengthAdjust="spacingAndGlyphs" stroke="#231f20" stroke-width="0.05" >ESLAM first division (day 0-4)</text>
<path d="M38.2,544.10H103.8M38.2,571.50H103.8M38.2,599.00H103.8M38.2,557.80H103.8M38.2,585.25H103.8M40.60,541.5V601.2M70.80,541.5V601.2M101.00,541.5V601.2M55.70,541.5V601.2M85.90,541.5V601.2" stroke="#f4f4f4" stroke-width="0.6" fill="none"/>
<rect x="38.2" y="527.4" width="65.6" height="14.100000000000023" fill="#d9d9d9" stroke="#1a1a1a" stroke-width="1.15"/>
<rect x="38.2" y="541.5" width="65.6" height="59.700000000000045" fill="none" stroke="#1a1a1a" stroke-width="1.15"/>
<line x1="40.60" y1="601.2" x2="40.60" y2="604.0" stroke="#333" stroke-width="0.9"/>
<text x="41.60" y="615.60" font-size="8.2" text-anchor="middle" stroke="#231f20" stroke-width="0.05" >10<tspan font-size="5.6" dy="-3.9">3</tspan></text>
<line x1="70.80" y1="601.2" x2="70.80" y2="604.0" stroke="#333" stroke-width="0.9"/>
<text x="71.80" y="615.60" font-size="8.2" text-anchor="middle" stroke="#231f20" stroke-width="0.05" >10<tspan font-size="5.6" dy="-3.9">4</tspan></text>
<line x1="101.00" y1="601.2" x2="101.00" y2="604.0" stroke="#333" stroke-width="0.9"/>
<text x="102.00" y="615.60" font-size="8.2" text-anchor="middle" stroke="#231f20" stroke-width="0.05" >10<tspan font-size="5.6" dy="-3.9">5</tspan></text>
<path d="M113.8,544.10H179.4M113.8,571.50H179.4M113.8,599.00H179.4M113.8,557.80H179.4M113.8,585.25H179.4M116.50,541.5V601.2M146.70,541.5V601.2M176.90,541.5V601.2M131.60,541.5V601.2M161.80,541.5V601.2" stroke="#f4f4f4" stroke-width="0.6" fill="none"/>
<rect x="113.8" y="527.4" width="65.60000000000001" height="14.100000000000023" fill="#d9d9d9" stroke="#1a1a1a" stroke-width="1.15"/>
<rect x="113.8" y="541.5" width="65.60000000000001" height="59.700000000000045" fill="none" stroke="#1a1a1a" stroke-width="1.15"/>
<line x1="116.50" y1="601.2" x2="116.50" y2="604.0" stroke="#333" stroke-width="0.9"/>
<text x="117.50" y="615.60" font-size="8.2" text-anchor="middle" stroke="#231f20" stroke-width="0.05" >10<tspan font-size="5.6" dy="-3.9">3</tspan></text>
<line x1="146.70" y1="601.2" x2="146.70" y2="604.0" stroke="#333" stroke-width="0.9"/>
<text x="147.70" y="615.60" font-size="8.2" text-anchor="middle" stroke="#231f20" stroke-width="0.05" >10<tspan font-size="5.6" dy="-3.9">4</tspan></text>
<line x1="176.90" y1="601.2" x2="176.90" y2="604.0" stroke="#333" stroke-width="0.9"/>
<text x="177.90" y="615.60" font-size="8.2" text-anchor="middle" stroke="#231f20" stroke-width="0.05" >10<tspan font-size="5.6" dy="-3.9">5</tspan></text>
<text x="70.90" y="537.30" font-size="8.4" text-anchor="middle" textLength="12.30" lengthAdjust="spacingAndGlyphs" stroke="#231f20" stroke-width="0.05" >WT</text>
<text x="146.60" y="537.30" font-size="8.4" text-anchor="middle" textLength="41.00" lengthAdjust="spacingAndGlyphs" stroke="#231f20" stroke-width="0.05" ><tspan font-style="italic" stroke-width="0.05">miR-146a</tspan><tspan font-style="italic" stroke-width="0" font-size="5.0" dy="-2.8">-/-</tspan></text>
<line x1="35.400000000000006" y1="544.10" x2="38.2" y2="544.10" stroke="#333" stroke-width="0.9"/>
<text x="33.80" y="547.00" font-size="8.2" text-anchor="end" stroke="#231f20" stroke-width="0.05" >10<tspan font-size="5.6" dy="-3.9">5</tspan></text>
<line x1="35.400000000000006" y1="571.50" x2="38.2" y2="571.50" stroke="#333" stroke-width="0.9"/>
<text x="33.80" y="574.40" font-size="8.2" text-anchor="end" stroke="#231f20" stroke-width="0.05" >10<tspan font-size="5.6" dy="-3.9">4</tspan></text>
<line x1="35.400000000000006" y1="599.00" x2="38.2" y2="599.00" stroke="#333" stroke-width="0.9"/>
<text x="33.80" y="601.90" font-size="8.2" text-anchor="end" stroke="#231f20" stroke-width="0.05" >10<tspan font-size="5.6" dy="-3.9">3</tspan></text>
<text x="0" y="0" font-size="10.6" text-anchor="middle" fill="#231f20" textLength="28.2" lengthAdjust="spacingAndGlyphs" stroke="#231f20" stroke-width="0.05" transform="translate(15.90,565.00) rotate(-90)">EPCR-PE</text>
<text x="108.80" y="628.10" font-size="8.4" text-anchor="middle" textLength="49.60" lengthAdjust="spacingAndGlyphs" stroke="#231f20" stroke-width="0.05" >CD150-PE/Cy7</text>
<rect x="70.8" y="544.2" width="30.299999999999997" height="27.09999999999991" fill="none" stroke="#333" stroke-width="1.1" stroke-dasharray="3.6,2.4"/>
<rect x="146.6" y="544.3" width="30.099999999999994" height="27.0" fill="none" stroke="#333" stroke-width="1.1" stroke-dasharray="3.6,2.4"/>
<circle cx="58.6" cy="558.8" r="1.3" fill="#66a3e6"/><circle cx="53" cy="560" r="1.3" fill="#66a3e6"/><circle cx="54.3" cy="560.6" r="1.3" fill="#66a3e6"/><circle cx="55.3" cy="561.1" r="1.3" fill="#66a3e6"/><circle cx="61.2" cy="561.6" r="1.3" fill="#66a3e6"/><circle cx="64.5" cy="562.6" r="1.3" fill="#66a3e6"/><circle cx="63.5" cy="563.5" r="1.3" fill="#66a3e6"/><circle cx="57.9" cy="563.5" r="1.3" fill="#66a3e6"/><circle cx="58.6" cy="565.8" r="1.3" fill="#66a3e6"/><circle cx="52" cy="565.8" r="1.3" fill="#66a3e6"/><circle cx="67.7" cy="565" r="1.3" fill="#66a3e6"/><circle cx="58.3" cy="569.8" r="1.3" fill="#66a3e6"/><circle cx="45.8" cy="572.4" r="1.3" fill="#66a3e6"/><circle cx="47.2" cy="574.3" r="1.3" fill="#66a3e6"/><circle cx="70" cy="549.8" r="1.3" fill="#66a3e6"/><circle cx="84.6" cy="547.2" r="1.3" fill="#66a3e6"/><circle cx="70.1" cy="550" r="1.3" fill="#66a3e6"/><circle cx="84.3" cy="552.1" r="1.3" fill="#66a3e6"/><circle cx="78" cy="554.9" r="1.3" fill="#66a3e6"/><circle cx="79.1" cy="555.9" r="1.3" fill="#66a3e6"/><circle cx="87.4" cy="555.9" r="1.3" fill="#66a3e6"/><circle cx="90.5" cy="556.2" r="1.3" fill="#66a3e6"/><circle cx="80.1" cy="558.7" r="1.3" fill="#66a3e6"/><circle cx="84.3" cy="558" r="1.3" fill="#66a3e6"/><circle cx="85.3" cy="559.4" r="1.3" fill="#66a3e6"/><circle cx="78.4" cy="561.8" r="1.3" fill="#66a3e6"/><circle cx="79.8" cy="561.1" r="1.3" fill="#66a3e6"/><circle cx="80.8" cy="562.1" r="1.3" fill="#66a3e6"/><circle cx="81.5" cy="561.4" r="1.3" fill="#66a3e6"/><circle cx="71.5" cy="563.2" r="1.3" fill="#66a3e6"/><circle cx="68.3" cy="564.9" r="1.3" fill="#66a3e6"/><circle cx="84.6" cy="567" r="1.3" fill="#66a3e6"/><circle cx="86" cy="567.3" r="1.3" fill="#66a3e6"/><circle cx="82.9" cy="568" r="1.3" fill="#66a3e6"/><circle cx="77" cy="568.7" r="1.3" fill="#66a3e6"/><circle cx="70.4" cy="568" r="1.3" fill="#66a3e6"/><circle cx="74.9" cy="572.2" r="1.3" fill="#66a3e6"/><circle cx="58.3" cy="569.6" r="1.3" fill="#66a3e6"/><circle cx="47.2" cy="575.5" r="1.3" fill="#66a3e6"/><circle cx="53.4" cy="584" r="1.3" fill="#66a3e6"/><circle cx="68.1" cy="581.4" r="1.3" fill="#66a3e6"/><circle cx="69" cy="582.5" r="1.3" fill="#66a3e6"/><circle cx="74.9" cy="572.5" r="1.3" fill="#66a3e6"/><circle cx="68.7" cy="582.2" r="1.3" fill="#66a3e6"/><circle cx="73.9" cy="590.5" r="1.3" fill="#66a3e6"/><circle cx="137.4" cy="555.1" r="1.3" fill="#66a3e6"/><circle cx="141.3" cy="557.7" r="1.3" fill="#66a3e6"/><circle cx="124.1" cy="559.3" r="1.3" fill="#66a3e6"/><circle cx="140.1" cy="565.8" r="1.3" fill="#66a3e6"/><circle cx="136.5" cy="566.8" r="1.3" fill="#66a3e6"/><circle cx="139.5" cy="569.8" r="1.3" fill="#66a3e6"/><circle cx="154.4" cy="556.4" r="1.3" fill="#66a3e6"/><circle cx="150.9" cy="563.7" r="1.3" fill="#66a3e6"/><circle cx="146.4" cy="564.9" r="1.3" fill="#66a3e6"/><circle cx="148.2" cy="568" r="1.3" fill="#66a3e6"/><circle cx="139.5" cy="569.6" r="1.3" fill="#66a3e6"/><circle cx="142.4" cy="575.8" r="1.3" fill="#66a3e6"/><circle cx="137.2" cy="578.5" r="1.3" fill="#66a3e6"/><circle cx="125.8" cy="583.4" r="1.3" fill="#66a3e6"/><circle cx="142.1" cy="585.3" r="1.3" fill="#66a3e6"/><circle cx="137.2" cy="590.9" r="1.3" fill="#66a3e6"/><circle cx="123.5" cy="594.1" r="1.3" fill="#66a3e6"/><circle cx="156.1" cy="584.5" r="1.3" fill="#66a3e6"/><circle cx="53.7" cy="564.9" r="1.35" fill="#cc1524"/><circle cx="54.7" cy="572.4" r="1.35" fill="#cc1524"/><circle cx="85.9" cy="552.1" r="1.35" fill="#cc1524"/><circle cx="86.4" cy="555.9" r="1.35" fill="#cc1524"/><circle cx="89.1" cy="558.3" r="1.35" fill="#cc1524"/><circle cx="81.9" cy="559" r="1.35" fill="#cc1524"/><circle cx="88.4" cy="560" r="1.35" fill="#cc1524"/><circle cx="87.7" cy="561.8" r="1.35" fill="#cc1524"/><circle cx="83.6" cy="562.5" r="1.35" fill="#cc1524"/><circle cx="77.7" cy="559.7" r="1.35" fill="#cc1524"/><circle cx="76.3" cy="563.9" r="1.35" fill="#cc1524"/><circle cx="74.9" cy="565.2" r="1.35" fill="#cc1524"/><circle cx="73.5" cy="565.9" r="1.35" fill="#cc1524"/><circle cx="78.7" cy="565.9" r="1.35" fill="#cc1524"/><circle cx="82.2" cy="564.2" r="1.35" fill="#cc1524"/><circle cx="86.7" cy="564.9" r="1.35" fill="#cc1524"/><circle cx="84.6" cy="569.7" r="1.35" fill="#cc1524"/><circle cx="71.5" cy="570.1" r="1.35" fill="#cc1524"/><circle cx="69.4" cy="569" r="1.35" fill="#cc1524"/><circle cx="79.8" cy="572.9" r="1.35" fill="#cc1524"/><circle cx="54.3" cy="572.4" r="1.35" fill="#cc1524"/><circle cx="52.7" cy="577.2" r="1.35" fill="#cc1524"/><circle cx="46.5" cy="579.4" r="1.35" fill="#cc1524"/><circle cx="44.5" cy="581.1" r="1.35" fill="#cc1524"/><circle cx="50.7" cy="579.8" r="1.35" fill="#cc1524"/><circle cx="50.4" cy="581.4" r="1.35" fill="#cc1524"/><circle cx="47.8" cy="582.7" r="1.35" fill="#cc1524"/><circle cx="55.6" cy="578.5" r="1.35" fill="#cc1524"/><circle cx="56.3" cy="580.1" r="1.35" fill="#cc1524"/><circle cx="57.6" cy="580.7" r="1.35" fill="#cc1524"/><circle cx="56" cy="581.7" r="1.35" fill="#cc1524"/><circle cx="57.6" cy="584.7" r="1.35" fill="#cc1524"/><circle cx="50.7" cy="586.6" r="1.35" fill="#cc1524"/><circle cx="63.8" cy="586" r="1.35" fill="#cc1524"/><circle cx="61.2" cy="592.5" r="1.35" fill="#cc1524"/><circle cx="69.7" cy="592.5" r="1.35" fill="#cc1524"/><circle cx="69.7" cy="594.8" r="1.35" fill="#cc1524"/><circle cx="71.1" cy="570.4" r="1.35" fill="#cc1524"/><circle cx="79.8" cy="572.5" r="1.35" fill="#cc1524"/><circle cx="74.6" cy="575.3" r="1.35" fill="#cc1524"/><circle cx="74.2" cy="577.3" r="1.35" fill="#cc1524"/><circle cx="80.1" cy="576.9" r="1.35" fill="#cc1524"/><circle cx="75.3" cy="589.1" r="1.35" fill="#cc1524"/><circle cx="72.5" cy="592.6" r="1.35" fill="#cc1524"/><circle cx="70.1" cy="592.6" r="1.35" fill="#cc1524"/><circle cx="69.7" cy="594.7" r="1.35" fill="#cc1524"/><circle cx="135.9" cy="557" r="1.35" fill="#cc1524"/><circle cx="138.2" cy="564.5" r="1.35" fill="#cc1524"/><circle cx="122.8" cy="565.5" r="1.35" fill="#cc1524"/><circle cx="144.7" cy="568.5" r="1.35" fill="#cc1524"/><circle cx="145.4" cy="567.8" r="1.35" fill="#cc1524"/><circle cx="129" cy="570.1" r="1.35" fill="#cc1524"/><circle cx="133.9" cy="571.7" r="1.35" fill="#cc1524"/><circle cx="137.9" cy="572.4" r="1.35" fill="#cc1524"/><circle cx="142.4" cy="573" r="1.35" fill="#cc1524"/><circle cx="146.4" cy="573.7" r="1.35" fill="#cc1524"/><circle cx="134.9" cy="574.7" r="1.35" fill="#cc1524"/><circle cx="161" cy="555.9" r="1.35" fill="#cc1524"/><circle cx="153" cy="563" r="1.35" fill="#cc1524"/><circle cx="159.9" cy="565.6" r="1.35" fill="#cc1524"/><circle cx="160.6" cy="568.7" r="1.35" fill="#cc1524"/><circle cx="149.2" cy="566.6" r="1.35" fill="#cc1524"/><circle cx="145" cy="568.4" r="1.35" fill="#cc1524"/><circle cx="148.2" cy="570.8" r="1.35" fill="#cc1524"/><circle cx="146.4" cy="573.5" r="1.35" fill="#cc1524"/><circle cx="144.1" cy="569.3" r="1.35" fill="#cc1524"/><circle cx="146" cy="573.9" r="1.35" fill="#cc1524"/><circle cx="146.7" cy="575.5" r="1.35" fill="#cc1524"/><circle cx="120.2" cy="576.8" r="1.35" fill="#cc1524"/><circle cx="120.9" cy="577.5" r="1.35" fill="#cc1524"/><circle cx="125.8" cy="577.2" r="1.35" fill="#cc1524"/><circle cx="126.1" cy="578.8" r="1.35" fill="#cc1524"/><circle cx="128.7" cy="576.5" r="1.35" fill="#cc1524"/><circle cx="132" cy="576.5" r="1.35" fill="#cc1524"/><circle cx="122.5" cy="579.8" r="1.35" fill="#cc1524"/><circle cx="139.5" cy="577.8" r="1.35" fill="#cc1524"/><circle cx="142.1" cy="579.6" r="1.35" fill="#cc1524"/><circle cx="136.2" cy="580.7" r="1.35" fill="#cc1524"/><circle cx="136.5" cy="582" r="1.35" fill="#cc1524"/><circle cx="135.6" cy="583" r="1.35" fill="#cc1524"/><circle cx="136.9" cy="583.7" r="1.35" fill="#cc1524"/><circle cx="139.8" cy="583.6" r="1.35" fill="#cc1524"/><circle cx="144.7" cy="581.7" r="1.35" fill="#cc1524"/><circle cx="128.4" cy="582.4" r="1.35" fill="#cc1524"/><circle cx="127.4" cy="583" r="1.35" fill="#cc1524"/><circle cx="127.1" cy="586" r="1.35" fill="#cc1524"/><circle cx="127.4" cy="587" r="1.35" fill="#cc1524"/><circle cx="126.4" cy="588.6" r="1.35" fill="#cc1524"/><circle cx="136.2" cy="587" r="1.35" fill="#cc1524"/><circle cx="136.5" cy="587.9" r="1.35" fill="#cc1524"/><circle cx="145.4" cy="586.6" r="1.35" fill="#cc1524"/><circle cx="143.4" cy="589.2" r="1.35" fill="#cc1524"/><circle cx="133.6" cy="594.8" r="1.35" fill="#cc1524"/><circle cx="142.8" cy="594.5" r="1.35" fill="#cc1524"/><circle cx="122.2" cy="595.1" r="1.35" fill="#cc1524"/><circle cx="146.1" cy="573.9" r="1.35" fill="#cc1524"/><circle cx="146.8" cy="575.6" r="1.35" fill="#cc1524"/><circle cx="144.7" cy="581.5" r="1.35" fill="#cc1524"/><circle cx="148.8" cy="581.5" r="1.35" fill="#cc1524"/><circle cx="150.6" cy="582.5" r="1.35" fill="#cc1524"/><circle cx="145.4" cy="586.4" r="1.35" fill="#cc1524"/><circle cx="144.3" cy="589.1" r="1.35" fill="#cc1524"/><circle cx="154.7" cy="590.9" r="1.35" fill="#cc1524"/>
<text x="202.40" y="553.80" font-size="7.6" text-anchor="middle" textLength="9.50" lengthAdjust="spacingAndGlyphs" stroke="#231f20" stroke-width="0.05" >1st</text>
<text x="202.90" y="562.90" font-size="7.6" text-anchor="middle" textLength="25.90" lengthAdjust="spacingAndGlyphs" stroke="#231f20" stroke-width="0.05" >Division</text>
<circle cx="192.3" cy="573.6" r="1.3" fill="#cc1524"/>
<circle cx="192.3" cy="583.3" r="1.3" fill="#66a3e6"/>
<text x="196.40" y="575.00" font-size="7.6" text-anchor="start" textLength="18.60" lengthAdjust="spacingAndGlyphs" stroke="#231f20" stroke-width="0.05" >&lt; 72h</text>
<text x="196.40" y="585.00" font-size="7.6" text-anchor="start" textLength="18.60" lengthAdjust="spacingAndGlyphs" stroke="#231f20" stroke-width="0.05" >≥ 72h</text>
<text x="330.60" y="520.90" font-size="9.0" text-anchor="middle" textLength="101.00" lengthAdjust="spacingAndGlyphs" stroke="#231f20" stroke-width="0.05" >ESLAM clones (day 10)</text>
<path d="M261.5,544.10H328.0M261.5,571.50H328.0M261.5,599.00H328.0M261.5,557.80H328.0M261.5,585.25H328.0M273.30,541.5V601.2M299.10,541.5V601.2M324.90,541.5V601.2M286.20,541.5V601.2M312.00,541.5V601.2" stroke="#f4f4f4" stroke-width="0.6" fill="none"/>
<rect x="261.5" y="527.4" width="66.5" height="14.100000000000023" fill="#d9d9d9" stroke="#1a1a1a" stroke-width="1.15"/>
<rect x="261.5" y="541.5" width="66.5" height="59.700000000000045" fill="none" stroke="#1a1a1a" stroke-width="1.15"/>
<line x1="273.30" y1="601.2" x2="273.30" y2="604.0" stroke="#333" stroke-width="0.9"/>
<text x="274.30" y="615.60" font-size="8.2" text-anchor="middle" stroke="#231f20" stroke-width="0.05" >10<tspan font-size="5.6" dy="-3.9">3</tspan></text>
<line x1="299.10" y1="601.2" x2="299.10" y2="604.0" stroke="#333" stroke-width="0.9"/>
<text x="300.10" y="615.60" font-size="8.2" text-anchor="middle" stroke="#231f20" stroke-width="0.05" >10<tspan font-size="5.6" dy="-3.9">4</tspan></text>
<line x1="324.90" y1="601.2" x2="324.90" y2="604.0" stroke="#333" stroke-width="0.9"/>
<text x="325.90" y="615.60" font-size="8.2" text-anchor="middle" stroke="#231f20" stroke-width="0.05" >10<tspan font-size="5.6" dy="-3.9">5</tspan></text>
<path d="M335.5,544.10H401.6M335.5,571.50H401.6M335.5,599.00H401.6M335.5,557.80H401.6M335.5,585.25H401.6M347.30,541.5V601.2M373.10,541.5V601.2M398.90,541.5V601.2M360.20,541.5V601.2M386.00,541.5V601.2" stroke="#f4f4f4" stroke-width="0.6" fill="none"/>
<rect x="335.5" y="527.4" width="66.10000000000002" height="14.100000000000023" fill="#d9d9d9" stroke="#1a1a1a" stroke-width="1.15"/>
<rect x="335.5" y="541.5" width="66.10000000000002" height="59.700000000000045" fill="none" stroke="#1a1a1a" stroke-width="1.15"/>
<line x1="347.30" y1="601.2" x2="347.30" y2="604.0" stroke="#333" stroke-width="0.9"/>
<text x="348.30" y="615.60" font-size="8.2" text-anchor="middle" stroke="#231f20" stroke-width="0.05" >10<tspan font-size="5.6" dy="-3.9">3</tspan></text>
<line x1="373.10" y1="601.2" x2="373.10" y2="604.0" stroke="#333" stroke-width="0.9"/>
<text x="374.10" y="615.60" font-size="8.2" text-anchor="middle" stroke="#231f20" stroke-width="0.05" >10<tspan font-size="5.6" dy="-3.9">4</tspan></text>
<line x1="398.90" y1="601.2" x2="398.90" y2="604.0" stroke="#333" stroke-width="0.9"/>
<text x="399.90" y="615.60" font-size="8.2" text-anchor="middle" stroke="#231f20" stroke-width="0.05" >10<tspan font-size="5.6" dy="-3.9">5</tspan></text>
<text x="294.70" y="537.30" font-size="8.4" text-anchor="middle" textLength="12.30" lengthAdjust="spacingAndGlyphs" stroke="#231f20" stroke-width="0.05" >WT</text>
<text x="368.50" y="537.30" font-size="8.4" text-anchor="middle" textLength="41.00" lengthAdjust="spacingAndGlyphs" stroke="#231f20" stroke-width="0.05" ><tspan font-style="italic" stroke-width="0.05">miR-146a</tspan><tspan font-style="italic" stroke-width="0" font-size="5.0" dy="-2.8">-/-</tspan></text>
<line x1="258.7" y1="544.10" x2="261.5" y2="544.10" stroke="#333" stroke-width="0.9"/>
<text x="257.10" y="547.00" font-size="8.2" text-anchor="end" stroke="#231f20" stroke-width="0.05" >10<tspan font-size="5.6" dy="-3.9">5</tspan></text>
<line x1="258.7" y1="571.50" x2="261.5" y2="571.50" stroke="#333" stroke-width="0.9"/>
<text x="257.10" y="574.40" font-size="8.2" text-anchor="end" stroke="#231f20" stroke-width="0.05" >10<tspan font-size="5.6" dy="-3.9">4</tspan></text>
<line x1="258.7" y1="599.00" x2="261.5" y2="599.00" stroke="#333" stroke-width="0.9"/>
<text x="257.10" y="601.90" font-size="8.2" text-anchor="end" stroke="#231f20" stroke-width="0.05" >10<tspan font-size="5.6" dy="-3.9">3</tspan></text>
<text x="0" y="0" font-size="10.6" text-anchor="middle" fill="#231f20" textLength="28.2" lengthAdjust="spacingAndGlyphs" stroke="#231f20" stroke-width="0.05" transform="translate(240.90,565.00) rotate(-90)">EPCR-PE</text>
<text x="331.70" y="628.10" font-size="8.4" text-anchor="middle" textLength="49.60" lengthAdjust="spacingAndGlyphs" stroke="#231f20" stroke-width="0.05" >CD150-PE/Cy7</text>
<rect x="299.1" y="544.2" width="25.5" height="26.899999999999977" fill="none" stroke="#333" stroke-width="1.1" stroke-dasharray="3.6,2.4"/>
<rect x="372.5" y="544.2" width="26.0" height="26.899999999999977" fill="none" stroke="#333" stroke-width="1.1" stroke-dasharray="3.6,2.4"/>
<circle cx="276.1" cy="553.8" r="1.0" fill="#6e9ad8" fill-opacity="0.88"/><circle cx="284.6" cy="553.4" r="1.0" fill="#6e9ad8" fill-opacity="0.88"/><circle cx="291" cy="556.1" r="1.3" fill="#6e9ad8" fill-opacity="0.88"/><circle cx="276.5" cy="560.2" r="3.0" fill="#6e9ad8" fill-opacity="0.88"/><circle cx="266.7" cy="563.2" r="1.0" fill="#6e9ad8" fill-opacity="0.88"/><circle cx="288.3" cy="569.6" r="1.2" fill="#6e9ad8" fill-opacity="0.88"/><circle cx="277.8" cy="572.4" r="0.8" fill="#6e9ad8" fill-opacity="0.88"/><circle cx="281.2" cy="574.1" r="1.0" fill="#6e9ad8" fill-opacity="0.88"/><circle cx="295.7" cy="549.4" r="0.7" fill="#6e9ad8" fill-opacity="0.88"/><circle cx="277" cy="575.7" r="2.0" fill="#6e9ad8" fill-opacity="0.88"/><circle cx="283.7" cy="577.1" r="1.8" fill="#6e9ad8" fill-opacity="0.88"/><circle cx="292.6" cy="576.8" r="2.3" fill="#6e9ad8" fill-opacity="0.88"/><circle cx="284.2" cy="584.2" r="1.8" fill="#6e9ad8" fill-opacity="0.88"/><circle cx="278.8" cy="583.5" r="0.9" fill="#6e9ad8" fill-opacity="0.88"/><circle cx="296.7" cy="549.4" r="0.8" fill="#6e9ad8" fill-opacity="0.88"/><circle cx="297" cy="551.1" r="0.9" fill="#6e9ad8" fill-opacity="0.88"/><circle cx="299.7" cy="554.5" r="0.8" fill="#6e9ad8" fill-opacity="0.88"/><circle cx="296.4" cy="558.5" r="1.0" fill="#6e9ad8" fill-opacity="0.88"/><circle cx="312.5" cy="555.9" r="0.8" fill="#6e9ad8" fill-opacity="0.88"/><circle cx="315.9" cy="556.5" r="0.7" fill="#6e9ad8" fill-opacity="0.88"/><circle cx="314.5" cy="558.5" r="0.8" fill="#6e9ad8" fill-opacity="0.88"/><circle cx="314.2" cy="560.5" r="1.5" fill="#6e9ad8" fill-opacity="0.88"/><circle cx="306.5" cy="562.2" r="1.3" fill="#6e9ad8" fill-opacity="0.88"/><circle cx="304.1" cy="563.5" r="1.5" fill="#6e9ad8" fill-opacity="0.88"/><circle cx="300.4" cy="563.9" r="1.0" fill="#6e9ad8" fill-opacity="0.88"/><circle cx="309.8" cy="567.6" r="1.0" fill="#6e9ad8" fill-opacity="0.88"/><circle cx="298.7" cy="569.6" r="1.0" fill="#6e9ad8" fill-opacity="0.88"/><circle cx="299.4" cy="570.6" r="0.9" fill="#6e9ad8" fill-opacity="0.88"/><circle cx="306.5" cy="572.2" r="0.7" fill="#6e9ad8" fill-opacity="0.88"/><circle cx="302.2" cy="576.5" r="2.0" fill="#6e9ad8" fill-opacity="0.88"/><circle cx="309.8" cy="567.7" r="0.7" fill="#6e9ad8" fill-opacity="0.88"/><circle cx="272.6" cy="580.4" r="2.9" fill="#d07a8c" fill-opacity="0.88"/><circle cx="270.4" cy="581.3" r="3.3" fill="#cbc3dd" fill-opacity="0.88"/><circle cx="268.6" cy="583.3" r="3.0" fill="#d9c1d3" fill-opacity="0.88"/><circle cx="364.9" cy="554.8" r="1.0" fill="#6e9ad8" fill-opacity="0.88"/><circle cx="367.3" cy="557" r="1.3" fill="#6e9ad8" fill-opacity="0.88"/><circle cx="364.3" cy="562.5" r="1.5" fill="#6e9ad8" fill-opacity="0.88"/><circle cx="363.9" cy="564.2" r="1.5" fill="#6e9ad8" fill-opacity="0.88"/><circle cx="350.5" cy="565.9" r="0.8" fill="#6e9ad8" fill-opacity="0.88"/><circle cx="355.9" cy="568.6" r="2.0" fill="#6e9ad8" fill-opacity="0.88"/><circle cx="358.2" cy="568.9" r="1.5" fill="#6e9ad8" fill-opacity="0.88"/><circle cx="361.2" cy="568.6" r="2.0" fill="#6e9ad8" fill-opacity="0.88"/><circle cx="369.3" cy="572.6" r="1.3" fill="#6e9ad8" fill-opacity="0.88"/><circle cx="371" cy="548.4" r="1.2" fill="#6e9ad8" fill-opacity="0.88"/><circle cx="367.3" cy="556.8" r="1.3" fill="#6e9ad8" fill-opacity="0.88"/><circle cx="378.1" cy="562.5" r="1.0" fill="#6e9ad8" fill-opacity="0.88"/><circle cx="374.1" cy="570.3" r="1.0" fill="#6e9ad8" fill-opacity="0.88"/><circle cx="369.4" cy="572.3" r="1.5" fill="#6e9ad8" fill-opacity="0.88"/><circle cx="372.7" cy="573.3" r="1.2" fill="#6e9ad8" fill-opacity="0.88"/><circle cx="338.7" cy="569.9" r="3.0" fill="#a3afe0" fill-opacity="0.88"/><circle cx="341.4" cy="573.5" r="3.0" fill="#bdb8df" fill-opacity="0.88"/><circle cx="355.2" cy="576.4" r="3.8" fill="#c3bfe0" fill-opacity="0.88"/><circle cx="347.4" cy="580.1" r="3.0" fill="#d6b6cd" fill-opacity="0.88"/><circle cx="356.9" cy="582.5" r="2.0" fill="#aab4e2" fill-opacity="0.88"/><circle cx="350.1" cy="575.1" r="2.5" fill="#d5606b" fill-opacity="0.88"/><circle cx="347.1" cy="573.7" r="1.5" fill="#6e9ad8" fill-opacity="0.88"/><circle cx="358.2" cy="577.4" r="1.6" fill="#6e9ad8" fill-opacity="0.88"/><circle cx="350.3" cy="580.5" r="1.5" fill="#6e9ad8" fill-opacity="0.88"/><circle cx="367" cy="577.4" r="2.1" fill="#6e9ad8" fill-opacity="0.88"/><circle cx="363.6" cy="582" r="1.6" fill="#6e9ad8" fill-opacity="0.88"/><circle cx="368.8" cy="584.6" r="2.5" fill="#d8b9cf" fill-opacity="0.88"/><circle cx="370.4" cy="588.5" r="2.0" fill="#6e9ad8" fill-opacity="0.88"/><circle cx="376.4" cy="581.5" r="2.5" fill="#d2b5cf" fill-opacity="0.88"/><circle cx="381.1" cy="584.2" r="3.8" fill="#d9464c" fill-opacity="0.88"/><circle cx="337.7" cy="586.2" r="3.3" fill="#d77a86" fill-opacity="0.88"/><circle cx="342.4" cy="586.2" r="3.8" fill="#d8363b" fill-opacity="0.88"/>
<text x="413.80" y="518.10" font-size="8.0" text-anchor="start" textLength="22.40" lengthAdjust="spacingAndGlyphs" stroke="#231f20" stroke-width="0.05" ># Cells</text>
<circle cx="418.2" cy="525.9" r="2.4" fill="#000"/>
<text x="425.60" y="527.80" font-size="5.3" text-anchor="start" textLength="15.10" lengthAdjust="spacingAndGlyphs" >10000</text>
<circle cx="418.2" cy="535.1" r="3.1" fill="#000"/>
<text x="425.60" y="537.00" font-size="5.3" text-anchor="start" textLength="15.10" lengthAdjust="spacingAndGlyphs" >20000</text>
<circle cx="418.2" cy="544.8" r="3.5" fill="#000"/>
<text x="425.60" y="546.70" font-size="5.3" text-anchor="start" textLength="15.10" lengthAdjust="spacingAndGlyphs" >30000</text>
<circle cx="418.2" cy="555.3" r="3.9" fill="#000"/>
<text x="425.60" y="557.20" font-size="5.3" text-anchor="start" textLength="15.10" lengthAdjust="spacingAndGlyphs" >40000</text>
<text x="413.80" y="572.30" font-size="7.6" text-anchor="start" textLength="65.70" lengthAdjust="spacingAndGlyphs" stroke="#231f20" stroke-width="0.05" ># Lin<tspan font-size="4.6" dy="-2.6">-</tspan><tspan dy="2.6"> Sca-1</tspan><tspan font-size="4.6" dy="-2.6">-</tspan><tspan dy="2.6"> c-Kit</tspan><tspan font-size="4.6" dy="-2.6">+</tspan></text>
<defs><linearGradient id="lkg" x1="0" y1="0" x2="0" y2="1"><stop offset="0" stop-color="#dc3a44"/><stop offset="0.5" stop-color="#b77fa5"/><stop offset="1" stop-color="#72aef2"/></linearGradient></defs>
<rect x="413.8" y="581.5" width="5.7" height="31.1" fill="url(#lkg)"/>
<text x="423.40" y="590.40" font-size="5.3" text-anchor="start" textLength="15.10" lengthAdjust="spacingAndGlyphs" >15000</text>
<text x="423.40" y="598.10" font-size="5.3" text-anchor="start" textLength="15.10" lengthAdjust="spacingAndGlyphs" >10000</text>
<text x="423.40" y="605.70" font-size="5.3" text-anchor="start" textLength="12.10" lengthAdjust="spacingAndGlyphs" >5000</text>
<text x="423.40" y="613.40" font-size="5.3" text-anchor="start" textLength="3.00" lengthAdjust="spacingAndGlyphs" >0</text>
<rect x="0.5" y="0.5" width="519" height="638" fill="none" stroke="#000" stroke-width="1"/>
</svg></body></html>
